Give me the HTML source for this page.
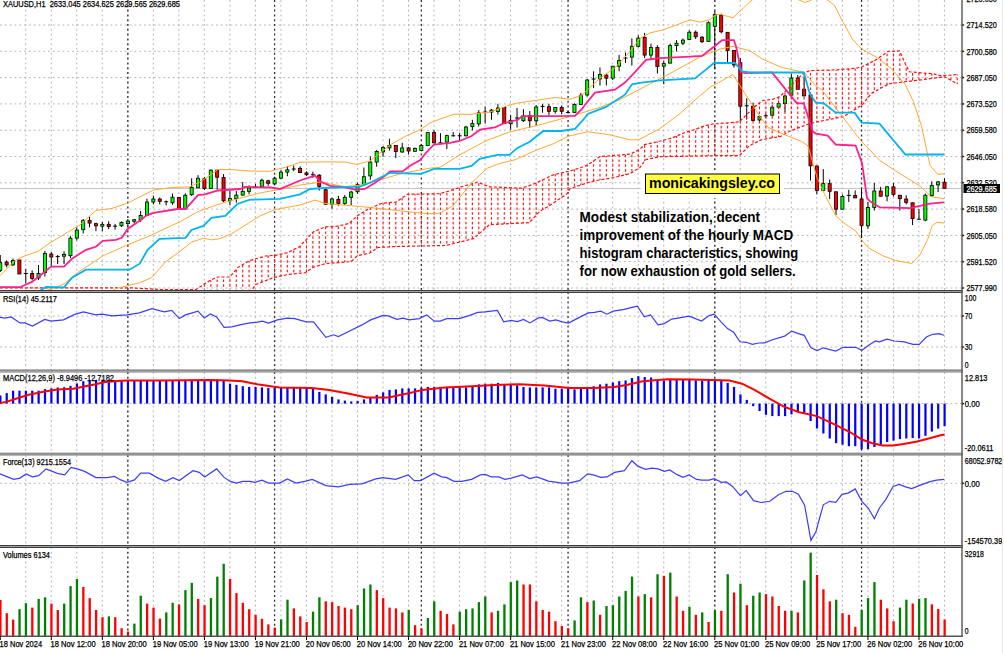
<!DOCTYPE html><html><head><meta charset="utf-8"><style>html,body{margin:0;padding:0;background:#fff;width:1004px;height:653px;overflow:hidden;position:relative}</style></head><body><svg width="1004" height="653" viewBox="0 0 1004 653" style="position:absolute;left:0;top:0"><style>text{font-family:"Liberation Sans",sans-serif;stroke-width:0.25}.g{stroke:#b8b8b8;stroke-width:1;stroke-dasharray:2 2.8}.d{stroke:#303030;stroke-width:1.3;stroke-dasharray:2 2.8}.ch{stroke:#ff1818;stroke-width:1.15;stroke-dasharray:2.6 2.2}.cb{fill:none;stroke:#ff1010;stroke-width:1.2;stroke-dasharray:3 2}.bb{fill:none;stroke:#ffa830;stroke-width:1}.kj{fill:none;stroke:#00b4f0;stroke-width:1.8}.tk{fill:none;stroke:#ff1f8f;stroke-width:1.8}.ind{fill:none;stroke:#3c3cff;stroke-width:1.2}</style><rect x="0" y="0" width="1004" height="653" fill="#fff"/><line x1="25.72" y1="0" x2="25.72" y2="290" class="g"/><line x1="51.24" y1="0" x2="51.24" y2="290" class="g"/><line x1="76.76" y1="0" x2="76.76" y2="290" class="g"/><line x1="102.28" y1="0" x2="102.28" y2="290" class="g"/><line x1="127.80" y1="0" x2="127.80" y2="290" class="g"/><line x1="153.32" y1="0" x2="153.32" y2="290" class="g"/><line x1="178.84" y1="0" x2="178.84" y2="290" class="g"/><line x1="204.36" y1="0" x2="204.36" y2="290" class="g"/><line x1="229.88" y1="0" x2="229.88" y2="290" class="g"/><line x1="255.40" y1="0" x2="255.40" y2="290" class="g"/><line x1="280.92" y1="0" x2="280.92" y2="290" class="g"/><line x1="306.44" y1="0" x2="306.44" y2="290" class="g"/><line x1="331.96" y1="0" x2="331.96" y2="290" class="g"/><line x1="357.48" y1="0" x2="357.48" y2="290" class="g"/><line x1="383.00" y1="0" x2="383.00" y2="290" class="g"/><line x1="408.52" y1="0" x2="408.52" y2="290" class="g"/><line x1="434.04" y1="0" x2="434.04" y2="290" class="g"/><line x1="459.56" y1="0" x2="459.56" y2="290" class="g"/><line x1="485.08" y1="0" x2="485.08" y2="290" class="g"/><line x1="510.60" y1="0" x2="510.60" y2="290" class="g"/><line x1="536.12" y1="0" x2="536.12" y2="290" class="g"/><line x1="561.64" y1="0" x2="561.64" y2="290" class="g"/><line x1="587.16" y1="0" x2="587.16" y2="290" class="g"/><line x1="612.68" y1="0" x2="612.68" y2="290" class="g"/><line x1="638.20" y1="0" x2="638.20" y2="290" class="g"/><line x1="663.72" y1="0" x2="663.72" y2="290" class="g"/><line x1="689.24" y1="0" x2="689.24" y2="290" class="g"/><line x1="714.76" y1="0" x2="714.76" y2="290" class="g"/><line x1="740.28" y1="0" x2="740.28" y2="290" class="g"/><line x1="765.80" y1="0" x2="765.80" y2="290" class="g"/><line x1="791.32" y1="0" x2="791.32" y2="290" class="g"/><line x1="816.84" y1="0" x2="816.84" y2="290" class="g"/><line x1="842.36" y1="0" x2="842.36" y2="290" class="g"/><line x1="867.88" y1="0" x2="867.88" y2="290" class="g"/><line x1="893.40" y1="0" x2="893.40" y2="290" class="g"/><line x1="918.92" y1="0" x2="918.92" y2="290" class="g"/><line x1="944.44" y1="0" x2="944.44" y2="290" class="g"/><line x1="25.72" y1="292" x2="25.72" y2="370" class="g"/><line x1="51.24" y1="292" x2="51.24" y2="370" class="g"/><line x1="76.76" y1="292" x2="76.76" y2="370" class="g"/><line x1="102.28" y1="292" x2="102.28" y2="370" class="g"/><line x1="127.80" y1="292" x2="127.80" y2="370" class="g"/><line x1="153.32" y1="292" x2="153.32" y2="370" class="g"/><line x1="178.84" y1="292" x2="178.84" y2="370" class="g"/><line x1="204.36" y1="292" x2="204.36" y2="370" class="g"/><line x1="229.88" y1="292" x2="229.88" y2="370" class="g"/><line x1="255.40" y1="292" x2="255.40" y2="370" class="g"/><line x1="280.92" y1="292" x2="280.92" y2="370" class="g"/><line x1="306.44" y1="292" x2="306.44" y2="370" class="g"/><line x1="331.96" y1="292" x2="331.96" y2="370" class="g"/><line x1="357.48" y1="292" x2="357.48" y2="370" class="g"/><line x1="383.00" y1="292" x2="383.00" y2="370" class="g"/><line x1="408.52" y1="292" x2="408.52" y2="370" class="g"/><line x1="434.04" y1="292" x2="434.04" y2="370" class="g"/><line x1="459.56" y1="292" x2="459.56" y2="370" class="g"/><line x1="485.08" y1="292" x2="485.08" y2="370" class="g"/><line x1="510.60" y1="292" x2="510.60" y2="370" class="g"/><line x1="536.12" y1="292" x2="536.12" y2="370" class="g"/><line x1="561.64" y1="292" x2="561.64" y2="370" class="g"/><line x1="587.16" y1="292" x2="587.16" y2="370" class="g"/><line x1="612.68" y1="292" x2="612.68" y2="370" class="g"/><line x1="638.20" y1="292" x2="638.20" y2="370" class="g"/><line x1="663.72" y1="292" x2="663.72" y2="370" class="g"/><line x1="689.24" y1="292" x2="689.24" y2="370" class="g"/><line x1="714.76" y1="292" x2="714.76" y2="370" class="g"/><line x1="740.28" y1="292" x2="740.28" y2="370" class="g"/><line x1="765.80" y1="292" x2="765.80" y2="370" class="g"/><line x1="791.32" y1="292" x2="791.32" y2="370" class="g"/><line x1="816.84" y1="292" x2="816.84" y2="370" class="g"/><line x1="842.36" y1="292" x2="842.36" y2="370" class="g"/><line x1="867.88" y1="292" x2="867.88" y2="370" class="g"/><line x1="893.40" y1="292" x2="893.40" y2="370" class="g"/><line x1="918.92" y1="292" x2="918.92" y2="370" class="g"/><line x1="944.44" y1="292" x2="944.44" y2="370" class="g"/><line x1="25.72" y1="372" x2="25.72" y2="453" class="g"/><line x1="51.24" y1="372" x2="51.24" y2="453" class="g"/><line x1="76.76" y1="372" x2="76.76" y2="453" class="g"/><line x1="102.28" y1="372" x2="102.28" y2="453" class="g"/><line x1="127.80" y1="372" x2="127.80" y2="453" class="g"/><line x1="153.32" y1="372" x2="153.32" y2="453" class="g"/><line x1="178.84" y1="372" x2="178.84" y2="453" class="g"/><line x1="204.36" y1="372" x2="204.36" y2="453" class="g"/><line x1="229.88" y1="372" x2="229.88" y2="453" class="g"/><line x1="255.40" y1="372" x2="255.40" y2="453" class="g"/><line x1="280.92" y1="372" x2="280.92" y2="453" class="g"/><line x1="306.44" y1="372" x2="306.44" y2="453" class="g"/><line x1="331.96" y1="372" x2="331.96" y2="453" class="g"/><line x1="357.48" y1="372" x2="357.48" y2="453" class="g"/><line x1="383.00" y1="372" x2="383.00" y2="453" class="g"/><line x1="408.52" y1="372" x2="408.52" y2="453" class="g"/><line x1="434.04" y1="372" x2="434.04" y2="453" class="g"/><line x1="459.56" y1="372" x2="459.56" y2="453" class="g"/><line x1="485.08" y1="372" x2="485.08" y2="453" class="g"/><line x1="510.60" y1="372" x2="510.60" y2="453" class="g"/><line x1="536.12" y1="372" x2="536.12" y2="453" class="g"/><line x1="561.64" y1="372" x2="561.64" y2="453" class="g"/><line x1="587.16" y1="372" x2="587.16" y2="453" class="g"/><line x1="612.68" y1="372" x2="612.68" y2="453" class="g"/><line x1="638.20" y1="372" x2="638.20" y2="453" class="g"/><line x1="663.72" y1="372" x2="663.72" y2="453" class="g"/><line x1="689.24" y1="372" x2="689.24" y2="453" class="g"/><line x1="714.76" y1="372" x2="714.76" y2="453" class="g"/><line x1="740.28" y1="372" x2="740.28" y2="453" class="g"/><line x1="765.80" y1="372" x2="765.80" y2="453" class="g"/><line x1="791.32" y1="372" x2="791.32" y2="453" class="g"/><line x1="816.84" y1="372" x2="816.84" y2="453" class="g"/><line x1="842.36" y1="372" x2="842.36" y2="453" class="g"/><line x1="867.88" y1="372" x2="867.88" y2="453" class="g"/><line x1="893.40" y1="372" x2="893.40" y2="453" class="g"/><line x1="918.92" y1="372" x2="918.92" y2="453" class="g"/><line x1="944.44" y1="372" x2="944.44" y2="453" class="g"/><line x1="25.72" y1="455" x2="25.72" y2="545" class="g"/><line x1="51.24" y1="455" x2="51.24" y2="545" class="g"/><line x1="76.76" y1="455" x2="76.76" y2="545" class="g"/><line x1="102.28" y1="455" x2="102.28" y2="545" class="g"/><line x1="127.80" y1="455" x2="127.80" y2="545" class="g"/><line x1="153.32" y1="455" x2="153.32" y2="545" class="g"/><line x1="178.84" y1="455" x2="178.84" y2="545" class="g"/><line x1="204.36" y1="455" x2="204.36" y2="545" class="g"/><line x1="229.88" y1="455" x2="229.88" y2="545" class="g"/><line x1="255.40" y1="455" x2="255.40" y2="545" class="g"/><line x1="280.92" y1="455" x2="280.92" y2="545" class="g"/><line x1="306.44" y1="455" x2="306.44" y2="545" class="g"/><line x1="331.96" y1="455" x2="331.96" y2="545" class="g"/><line x1="357.48" y1="455" x2="357.48" y2="545" class="g"/><line x1="383.00" y1="455" x2="383.00" y2="545" class="g"/><line x1="408.52" y1="455" x2="408.52" y2="545" class="g"/><line x1="434.04" y1="455" x2="434.04" y2="545" class="g"/><line x1="459.56" y1="455" x2="459.56" y2="545" class="g"/><line x1="485.08" y1="455" x2="485.08" y2="545" class="g"/><line x1="510.60" y1="455" x2="510.60" y2="545" class="g"/><line x1="536.12" y1="455" x2="536.12" y2="545" class="g"/><line x1="561.64" y1="455" x2="561.64" y2="545" class="g"/><line x1="587.16" y1="455" x2="587.16" y2="545" class="g"/><line x1="612.68" y1="455" x2="612.68" y2="545" class="g"/><line x1="638.20" y1="455" x2="638.20" y2="545" class="g"/><line x1="663.72" y1="455" x2="663.72" y2="545" class="g"/><line x1="689.24" y1="455" x2="689.24" y2="545" class="g"/><line x1="714.76" y1="455" x2="714.76" y2="545" class="g"/><line x1="740.28" y1="455" x2="740.28" y2="545" class="g"/><line x1="765.80" y1="455" x2="765.80" y2="545" class="g"/><line x1="791.32" y1="455" x2="791.32" y2="545" class="g"/><line x1="816.84" y1="455" x2="816.84" y2="545" class="g"/><line x1="842.36" y1="455" x2="842.36" y2="545" class="g"/><line x1="867.88" y1="455" x2="867.88" y2="545" class="g"/><line x1="893.40" y1="455" x2="893.40" y2="545" class="g"/><line x1="918.92" y1="455" x2="918.92" y2="545" class="g"/><line x1="944.44" y1="455" x2="944.44" y2="545" class="g"/><line x1="25.72" y1="547" x2="25.72" y2="636" class="g"/><line x1="51.24" y1="547" x2="51.24" y2="636" class="g"/><line x1="76.76" y1="547" x2="76.76" y2="636" class="g"/><line x1="102.28" y1="547" x2="102.28" y2="636" class="g"/><line x1="127.80" y1="547" x2="127.80" y2="636" class="g"/><line x1="153.32" y1="547" x2="153.32" y2="636" class="g"/><line x1="178.84" y1="547" x2="178.84" y2="636" class="g"/><line x1="204.36" y1="547" x2="204.36" y2="636" class="g"/><line x1="229.88" y1="547" x2="229.88" y2="636" class="g"/><line x1="255.40" y1="547" x2="255.40" y2="636" class="g"/><line x1="280.92" y1="547" x2="280.92" y2="636" class="g"/><line x1="306.44" y1="547" x2="306.44" y2="636" class="g"/><line x1="331.96" y1="547" x2="331.96" y2="636" class="g"/><line x1="357.48" y1="547" x2="357.48" y2="636" class="g"/><line x1="383.00" y1="547" x2="383.00" y2="636" class="g"/><line x1="408.52" y1="547" x2="408.52" y2="636" class="g"/><line x1="434.04" y1="547" x2="434.04" y2="636" class="g"/><line x1="459.56" y1="547" x2="459.56" y2="636" class="g"/><line x1="485.08" y1="547" x2="485.08" y2="636" class="g"/><line x1="510.60" y1="547" x2="510.60" y2="636" class="g"/><line x1="536.12" y1="547" x2="536.12" y2="636" class="g"/><line x1="561.64" y1="547" x2="561.64" y2="636" class="g"/><line x1="587.16" y1="547" x2="587.16" y2="636" class="g"/><line x1="612.68" y1="547" x2="612.68" y2="636" class="g"/><line x1="638.20" y1="547" x2="638.20" y2="636" class="g"/><line x1="663.72" y1="547" x2="663.72" y2="636" class="g"/><line x1="689.24" y1="547" x2="689.24" y2="636" class="g"/><line x1="714.76" y1="547" x2="714.76" y2="636" class="g"/><line x1="740.28" y1="547" x2="740.28" y2="636" class="g"/><line x1="765.80" y1="547" x2="765.80" y2="636" class="g"/><line x1="791.32" y1="547" x2="791.32" y2="636" class="g"/><line x1="816.84" y1="547" x2="816.84" y2="636" class="g"/><line x1="842.36" y1="547" x2="842.36" y2="636" class="g"/><line x1="867.88" y1="547" x2="867.88" y2="636" class="g"/><line x1="893.40" y1="547" x2="893.40" y2="636" class="g"/><line x1="918.92" y1="547" x2="918.92" y2="636" class="g"/><line x1="944.44" y1="547" x2="944.44" y2="636" class="g"/><line x1="0" y1="25.0" x2="962" y2="25.0" class="g"/><line x1="0" y1="51.3" x2="962" y2="51.3" class="g"/><line x1="0" y1="77.6" x2="962" y2="77.6" class="g"/><line x1="0" y1="103.9" x2="962" y2="103.9" class="g"/><line x1="0" y1="130.2" x2="962" y2="130.2" class="g"/><line x1="0" y1="156.5" x2="962" y2="156.5" class="g"/><line x1="0" y1="182.8" x2="962" y2="182.8" class="g"/><line x1="0" y1="209.1" x2="962" y2="209.1" class="g"/><line x1="0" y1="235.4" x2="962" y2="235.4" class="g"/><line x1="0" y1="261.7" x2="962" y2="261.7" class="g"/><line x1="0" y1="288.0" x2="962" y2="288.0" class="g"/><line x1="0" y1="316" x2="962" y2="316" class="g"/><line x1="0" y1="347" x2="962" y2="347" class="g"/><line x1="0" y1="403.6" x2="962" y2="403.6" class="g"/><line x1="0" y1="483.3" x2="962" y2="483.3" class="g"/><line x1="127.85" y1="0" x2="127.85" y2="290" class="d"/><line x1="274.59" y1="0" x2="274.59" y2="290" class="d"/><line x1="421.33" y1="0" x2="421.33" y2="290" class="d"/><line x1="568.07" y1="0" x2="568.07" y2="290" class="d"/><line x1="714.81" y1="0" x2="714.81" y2="290" class="d"/><line x1="861.55" y1="0" x2="861.55" y2="290" class="d"/><line x1="127.85" y1="292" x2="127.85" y2="370" class="d"/><line x1="274.59" y1="292" x2="274.59" y2="370" class="d"/><line x1="421.33" y1="292" x2="421.33" y2="370" class="d"/><line x1="568.07" y1="292" x2="568.07" y2="370" class="d"/><line x1="714.81" y1="292" x2="714.81" y2="370" class="d"/><line x1="861.55" y1="292" x2="861.55" y2="370" class="d"/><line x1="127.85" y1="372" x2="127.85" y2="453" class="d"/><line x1="274.59" y1="372" x2="274.59" y2="453" class="d"/><line x1="421.33" y1="372" x2="421.33" y2="453" class="d"/><line x1="568.07" y1="372" x2="568.07" y2="453" class="d"/><line x1="714.81" y1="372" x2="714.81" y2="453" class="d"/><line x1="861.55" y1="372" x2="861.55" y2="453" class="d"/><line x1="127.85" y1="455" x2="127.85" y2="545" class="d"/><line x1="274.59" y1="455" x2="274.59" y2="545" class="d"/><line x1="421.33" y1="455" x2="421.33" y2="545" class="d"/><line x1="568.07" y1="455" x2="568.07" y2="545" class="d"/><line x1="714.81" y1="455" x2="714.81" y2="545" class="d"/><line x1="861.55" y1="455" x2="861.55" y2="545" class="d"/><line x1="127.85" y1="547" x2="127.85" y2="636" class="d"/><line x1="274.59" y1="547" x2="274.59" y2="636" class="d"/><line x1="421.33" y1="547" x2="421.33" y2="636" class="d"/><line x1="568.07" y1="547" x2="568.07" y2="636" class="d"/><line x1="714.81" y1="547" x2="714.81" y2="636" class="d"/><line x1="861.55" y1="547" x2="861.55" y2="636" class="d"/><svg x="0" y="0" width="962" height="290" overflow="hidden"><line x1="0" y1="188.5" x2="962" y2="188.5" stroke="#c4c4c4" stroke-width="1"/><line x1="0.25" y1="255.0" x2="0.25" y2="272.0" stroke="#000" stroke-width="1"/><rect x="-1.30" y="262.7" width="3.1" height="7.7" fill="#00ff00" stroke="#000" stroke-width="0.8"/><line x1="6.63" y1="260.4" x2="6.63" y2="267.3" stroke="#000" stroke-width="1"/><rect x="5.08" y="262.0" width="3.1" height="3.0" fill="#ff0000" stroke="#000" stroke-width="0.8"/><line x1="13.01" y1="258.5" x2="13.01" y2="265.8" stroke="#000" stroke-width="1"/><rect x="11.46" y="260.4" width="3.1" height="4.6" fill="#00ff00" stroke="#000" stroke-width="0.8"/><line x1="19.39" y1="260.0" x2="19.39" y2="274.0" stroke="#000" stroke-width="1"/><rect x="17.84" y="260.0" width="3.1" height="14.0" fill="#ff0000" stroke="#000" stroke-width="0.8"/><line x1="25.77" y1="268.9" x2="25.77" y2="283.4" stroke="#000" stroke-width="1"/><line x1="23.77" y1="273.5" x2="27.77" y2="273.5" stroke="#000" stroke-width="1"/><line x1="32.15" y1="270.4" x2="32.15" y2="280.4" stroke="#000" stroke-width="1"/><rect x="30.60" y="273.5" width="3.1" height="5.0" fill="#ff0000" stroke="#000" stroke-width="0.8"/><line x1="38.53" y1="265.0" x2="38.53" y2="280.0" stroke="#000" stroke-width="1"/><rect x="36.98" y="273.5" width="3.1" height="4.5" fill="#00ff00" stroke="#000" stroke-width="0.8"/><line x1="44.91" y1="251.0" x2="44.91" y2="276.5" stroke="#000" stroke-width="1"/><rect x="43.36" y="253.5" width="3.1" height="19.2" fill="#00ff00" stroke="#000" stroke-width="0.8"/><line x1="51.29" y1="252.0" x2="51.29" y2="265.8" stroke="#000" stroke-width="1"/><rect x="49.74" y="254.0" width="3.1" height="3.0" fill="#ff0000" stroke="#000" stroke-width="0.8"/><line x1="57.67" y1="255.0" x2="57.67" y2="264.0" stroke="#000" stroke-width="1"/><line x1="55.67" y1="256.6" x2="59.67" y2="256.6" stroke="#000" stroke-width="1"/><line x1="64.05" y1="251.3" x2="64.05" y2="264.0" stroke="#000" stroke-width="1"/><rect x="62.50" y="254.3" width="3.1" height="1.9" fill="#00ff00" stroke="#000" stroke-width="0.8"/><line x1="70.43" y1="235.8" x2="70.43" y2="258.0" stroke="#000" stroke-width="1"/><rect x="68.88" y="238.1" width="3.1" height="17.6" fill="#00ff00" stroke="#000" stroke-width="0.8"/><line x1="76.81" y1="227.4" x2="76.81" y2="240.4" stroke="#000" stroke-width="1"/><rect x="75.26" y="230.1" width="3.1" height="8.0" fill="#00ff00" stroke="#000" stroke-width="0.8"/><line x1="83.19" y1="219.0" x2="83.19" y2="233.5" stroke="#000" stroke-width="1"/><rect x="81.64" y="220.5" width="3.1" height="9.2" fill="#00ff00" stroke="#000" stroke-width="0.8"/><line x1="89.57" y1="216.4" x2="89.57" y2="227.4" stroke="#000" stroke-width="1"/><rect x="88.02" y="220.5" width="3.1" height="2.6" fill="#ff0000" stroke="#000" stroke-width="0.8"/><line x1="95.95" y1="222.8" x2="95.95" y2="231.2" stroke="#000" stroke-width="1"/><rect x="94.40" y="223.6" width="3.1" height="2.2" fill="#ff0000" stroke="#000" stroke-width="0.8"/><line x1="102.33" y1="222.0" x2="102.33" y2="231.2" stroke="#000" stroke-width="1"/><rect x="100.78" y="224.3" width="3.1" height="1.9" fill="#00ff00" stroke="#000" stroke-width="0.8"/><line x1="108.71" y1="221.3" x2="108.71" y2="229.2" stroke="#000" stroke-width="1"/><rect x="107.16" y="224.3" width="3.1" height="2.3" fill="#ff0000" stroke="#000" stroke-width="0.8"/><line x1="115.09" y1="224.0" x2="115.09" y2="229.7" stroke="#000" stroke-width="1"/><line x1="113.09" y1="226.2" x2="117.09" y2="226.2" stroke="#000" stroke-width="1"/><line x1="121.47" y1="221.3" x2="121.47" y2="227.0" stroke="#000" stroke-width="1"/><rect x="119.92" y="222.5" width="3.1" height="3.3" fill="#00ff00" stroke="#000" stroke-width="0.8"/><line x1="127.85" y1="219.0" x2="127.85" y2="226.6" stroke="#000" stroke-width="1"/><rect x="126.30" y="221.0" width="3.1" height="2.6" fill="#00ff00" stroke="#000" stroke-width="0.8"/><line x1="134.23" y1="219.5" x2="134.23" y2="223.5" stroke="#000" stroke-width="1"/><rect x="132.68" y="219.7" width="3.1" height="1.5" fill="#00ff00" stroke="#000" stroke-width="0.8"/><line x1="140.61" y1="211.0" x2="140.61" y2="222.0" stroke="#000" stroke-width="1"/><rect x="139.06" y="215.5" width="3.1" height="4.2" fill="#00ff00" stroke="#000" stroke-width="0.8"/><line x1="146.99" y1="198.7" x2="146.99" y2="215.8" stroke="#000" stroke-width="1"/><rect x="145.44" y="202.0" width="3.1" height="13.5" fill="#00ff00" stroke="#000" stroke-width="0.8"/><line x1="153.37" y1="195.6" x2="153.37" y2="204.4" stroke="#000" stroke-width="1"/><rect x="151.82" y="199.0" width="3.1" height="3.0" fill="#00ff00" stroke="#000" stroke-width="0.8"/><line x1="159.75" y1="197.5" x2="159.75" y2="204.4" stroke="#000" stroke-width="1"/><rect x="158.20" y="199.0" width="3.1" height="2.3" fill="#ff0000" stroke="#000" stroke-width="0.8"/><line x1="166.13" y1="200.5" x2="166.13" y2="205.4" stroke="#000" stroke-width="1"/><line x1="164.13" y1="201.8" x2="168.13" y2="201.8" stroke="#000" stroke-width="1"/><line x1="172.51" y1="193.6" x2="172.51" y2="204.8" stroke="#000" stroke-width="1"/><rect x="170.96" y="197.2" width="3.1" height="5.6" fill="#00ff00" stroke="#000" stroke-width="0.8"/><line x1="178.89" y1="197.5" x2="178.89" y2="209.4" stroke="#000" stroke-width="1"/><rect x="177.34" y="197.5" width="3.1" height="11.9" fill="#ff0000" stroke="#000" stroke-width="0.8"/><line x1="185.27" y1="193.3" x2="185.27" y2="209.0" stroke="#000" stroke-width="1"/><rect x="183.72" y="195.2" width="3.1" height="13.8" fill="#00ff00" stroke="#000" stroke-width="0.8"/><line x1="191.65" y1="178.3" x2="191.65" y2="196.0" stroke="#000" stroke-width="1"/><rect x="190.10" y="187.5" width="3.1" height="7.2" fill="#00ff00" stroke="#000" stroke-width="0.8"/><line x1="198.03" y1="175.2" x2="198.03" y2="187.9" stroke="#000" stroke-width="1"/><rect x="196.48" y="178.2" width="3.1" height="9.7" fill="#00ff00" stroke="#000" stroke-width="0.8"/><line x1="204.41" y1="177.2" x2="204.41" y2="190.0" stroke="#000" stroke-width="1"/><rect x="202.86" y="178.7" width="3.1" height="9.8" fill="#ff0000" stroke="#000" stroke-width="0.8"/><line x1="210.79" y1="169.5" x2="210.79" y2="188.5" stroke="#000" stroke-width="1"/><rect x="209.24" y="170.1" width="3.1" height="18.4" fill="#00ff00" stroke="#000" stroke-width="0.8"/><line x1="217.17" y1="170.1" x2="217.17" y2="189.7" stroke="#000" stroke-width="1"/><rect x="215.62" y="170.1" width="3.1" height="7.1" fill="#ff0000" stroke="#000" stroke-width="0.8"/><line x1="223.55" y1="174.1" x2="223.55" y2="202.3" stroke="#000" stroke-width="1"/><rect x="222.00" y="177.5" width="3.1" height="23.3" fill="#ff0000" stroke="#000" stroke-width="0.8"/><line x1="229.93" y1="190.5" x2="229.93" y2="205.3" stroke="#000" stroke-width="1"/><rect x="228.38" y="198.6" width="3.1" height="2.2" fill="#00ff00" stroke="#000" stroke-width="0.8"/><line x1="236.31" y1="191.0" x2="236.31" y2="202.7" stroke="#000" stroke-width="1"/><rect x="234.76" y="195.1" width="3.1" height="3.5" fill="#00ff00" stroke="#000" stroke-width="0.8"/><line x1="242.69" y1="182.1" x2="242.69" y2="195.8" stroke="#000" stroke-width="1"/><rect x="241.14" y="191.3" width="3.1" height="3.8" fill="#00ff00" stroke="#000" stroke-width="0.8"/><line x1="249.07" y1="185.4" x2="249.07" y2="194.3" stroke="#000" stroke-width="1"/><rect x="247.52" y="187.9" width="3.1" height="3.4" fill="#00ff00" stroke="#000" stroke-width="0.8"/><line x1="255.45" y1="183.9" x2="255.45" y2="188.2" stroke="#000" stroke-width="1"/><line x1="253.45" y1="187.0" x2="257.45" y2="187.0" stroke="#000" stroke-width="1"/><line x1="261.83" y1="178.7" x2="261.83" y2="186.7" stroke="#000" stroke-width="1"/><rect x="260.28" y="180.2" width="3.1" height="6.2" fill="#00ff00" stroke="#000" stroke-width="0.8"/><line x1="268.21" y1="179.8" x2="268.21" y2="185.9" stroke="#000" stroke-width="1"/><rect x="266.66" y="180.8" width="3.1" height="2.5" fill="#ff0000" stroke="#000" stroke-width="0.8"/><line x1="274.59" y1="176.7" x2="274.59" y2="185.4" stroke="#000" stroke-width="1"/><rect x="273.04" y="178.2" width="3.1" height="5.7" fill="#00ff00" stroke="#000" stroke-width="0.8"/><line x1="280.97" y1="170.1" x2="280.97" y2="179.0" stroke="#000" stroke-width="1"/><rect x="279.42" y="172.1" width="3.1" height="6.1" fill="#00ff00" stroke="#000" stroke-width="0.8"/><line x1="287.35" y1="166.0" x2="287.35" y2="176.2" stroke="#000" stroke-width="1"/><rect x="285.80" y="169.8" width="3.1" height="2.3" fill="#00ff00" stroke="#000" stroke-width="0.8"/><line x1="293.73" y1="165.5" x2="293.73" y2="171.3" stroke="#000" stroke-width="1"/><line x1="291.73" y1="169.0" x2="295.73" y2="169.0" stroke="#000" stroke-width="1"/><line x1="300.11" y1="166.4" x2="300.11" y2="173.2" stroke="#000" stroke-width="1"/><rect x="298.56" y="168.3" width="3.1" height="4.3" fill="#ff0000" stroke="#000" stroke-width="0.8"/><line x1="306.49" y1="171.3" x2="306.49" y2="176.0" stroke="#000" stroke-width="1"/><rect x="304.94" y="172.9" width="3.1" height="1.8" fill="#ff0000" stroke="#000" stroke-width="0.8"/><line x1="312.87" y1="171.7" x2="312.87" y2="177.8" stroke="#000" stroke-width="1"/><line x1="310.87" y1="174.7" x2="314.87" y2="174.7" stroke="#000" stroke-width="1"/><line x1="319.25" y1="174.1" x2="319.25" y2="190.5" stroke="#000" stroke-width="1"/><rect x="317.70" y="175.2" width="3.1" height="11.2" fill="#ff0000" stroke="#000" stroke-width="0.8"/><line x1="325.63" y1="188.5" x2="325.63" y2="204.5" stroke="#000" stroke-width="1"/><rect x="324.08" y="189.7" width="3.1" height="14.5" fill="#ff0000" stroke="#000" stroke-width="0.8"/><line x1="332.01" y1="197.8" x2="332.01" y2="208.8" stroke="#000" stroke-width="1"/><rect x="330.46" y="198.9" width="3.1" height="5.3" fill="#00ff00" stroke="#000" stroke-width="0.8"/><line x1="338.39" y1="195.8" x2="338.39" y2="205.8" stroke="#000" stroke-width="1"/><rect x="336.84" y="199.3" width="3.1" height="4.2" fill="#ff0000" stroke="#000" stroke-width="0.8"/><line x1="344.77" y1="195.0" x2="344.77" y2="205.0" stroke="#000" stroke-width="1"/><rect x="343.22" y="197.3" width="3.1" height="6.2" fill="#00ff00" stroke="#000" stroke-width="0.8"/><line x1="351.15" y1="190.8" x2="351.15" y2="205.0" stroke="#000" stroke-width="1"/><rect x="349.60" y="192.0" width="3.1" height="5.3" fill="#00ff00" stroke="#000" stroke-width="0.8"/><line x1="357.53" y1="182.7" x2="357.53" y2="193.8" stroke="#000" stroke-width="1"/><rect x="355.98" y="184.6" width="3.1" height="7.2" fill="#00ff00" stroke="#000" stroke-width="0.8"/><line x1="363.91" y1="167.5" x2="363.91" y2="185.1" stroke="#000" stroke-width="1"/><rect x="362.36" y="176.7" width="3.1" height="7.6" fill="#00ff00" stroke="#000" stroke-width="0.8"/><line x1="370.29" y1="156.4" x2="370.29" y2="179.7" stroke="#000" stroke-width="1"/><rect x="368.74" y="162.1" width="3.1" height="13.8" fill="#00ff00" stroke="#000" stroke-width="0.8"/><line x1="376.67" y1="149.9" x2="376.67" y2="166.7" stroke="#000" stroke-width="1"/><rect x="375.12" y="151.4" width="3.1" height="10.7" fill="#00ff00" stroke="#000" stroke-width="0.8"/><line x1="383.05" y1="146.0" x2="383.05" y2="156.8" stroke="#000" stroke-width="1"/><rect x="381.50" y="147.6" width="3.1" height="4.3" fill="#00ff00" stroke="#000" stroke-width="0.8"/><line x1="389.43" y1="138.7" x2="389.43" y2="150.5" stroke="#000" stroke-width="1"/><rect x="387.88" y="145.4" width="3.1" height="2.5" fill="#00ff00" stroke="#000" stroke-width="0.8"/><line x1="395.81" y1="145.4" x2="395.81" y2="158.1" stroke="#000" stroke-width="1"/><rect x="394.26" y="145.4" width="3.1" height="6.2" fill="#ff0000" stroke="#000" stroke-width="0.8"/><line x1="402.19" y1="142.8" x2="402.19" y2="152.8" stroke="#000" stroke-width="1"/><rect x="400.64" y="147.9" width="3.1" height="4.1" fill="#00ff00" stroke="#000" stroke-width="0.8"/><line x1="408.57" y1="147.0" x2="408.57" y2="154.3" stroke="#000" stroke-width="1"/><rect x="407.02" y="147.9" width="3.1" height="3.1" fill="#ff0000" stroke="#000" stroke-width="0.8"/><line x1="414.95" y1="147.4" x2="414.95" y2="151.5" stroke="#000" stroke-width="1"/><rect x="413.40" y="148.5" width="3.1" height="2.8" fill="#00ff00" stroke="#000" stroke-width="0.8"/><line x1="421.33" y1="144.4" x2="421.33" y2="151.3" stroke="#000" stroke-width="1"/><rect x="419.78" y="145.4" width="3.1" height="5.1" fill="#00ff00" stroke="#000" stroke-width="0.8"/><line x1="427.71" y1="132.6" x2="427.71" y2="145.8" stroke="#000" stroke-width="1"/><rect x="426.16" y="132.6" width="3.1" height="12.8" fill="#00ff00" stroke="#000" stroke-width="0.8"/><line x1="434.09" y1="130.1" x2="434.09" y2="143.6" stroke="#000" stroke-width="1"/><rect x="432.54" y="132.6" width="3.1" height="10.2" fill="#ff0000" stroke="#000" stroke-width="0.8"/><line x1="440.47" y1="133.2" x2="440.47" y2="143.6" stroke="#000" stroke-width="1"/><line x1="438.47" y1="142.8" x2="442.47" y2="142.8" stroke="#000" stroke-width="1"/><line x1="446.85" y1="134.7" x2="446.85" y2="149.0" stroke="#000" stroke-width="1"/><rect x="445.30" y="135.6" width="3.1" height="6.5" fill="#00ff00" stroke="#000" stroke-width="0.8"/><line x1="453.23" y1="132.0" x2="453.23" y2="136.5" stroke="#000" stroke-width="1"/><line x1="451.23" y1="135.8" x2="455.23" y2="135.8" stroke="#000" stroke-width="1"/><line x1="459.61" y1="132.8" x2="459.61" y2="140.1" stroke="#000" stroke-width="1"/><line x1="457.61" y1="135.8" x2="461.61" y2="135.8" stroke="#000" stroke-width="1"/><line x1="465.99" y1="125.9" x2="465.99" y2="136.5" stroke="#000" stroke-width="1"/><rect x="464.44" y="127.0" width="3.1" height="8.8" fill="#00ff00" stroke="#000" stroke-width="0.8"/><line x1="472.37" y1="119.8" x2="472.37" y2="130.5" stroke="#000" stroke-width="1"/><rect x="470.82" y="123.6" width="3.1" height="3.1" fill="#00ff00" stroke="#000" stroke-width="0.8"/><line x1="478.75" y1="110.1" x2="478.75" y2="126.4" stroke="#000" stroke-width="1"/><rect x="477.20" y="112.9" width="3.1" height="11.0" fill="#00ff00" stroke="#000" stroke-width="0.8"/><line x1="485.13" y1="106.8" x2="485.13" y2="123.6" stroke="#000" stroke-width="1"/><line x1="483.13" y1="112.1" x2="487.13" y2="112.1" stroke="#000" stroke-width="1"/><line x1="491.51" y1="109.0" x2="491.51" y2="119.8" stroke="#000" stroke-width="1"/><rect x="489.96" y="110.1" width="3.1" height="2.0" fill="#00ff00" stroke="#000" stroke-width="0.8"/><line x1="497.89" y1="103.8" x2="497.89" y2="114.5" stroke="#000" stroke-width="1"/><rect x="496.34" y="108.0" width="3.1" height="3.5" fill="#00ff00" stroke="#000" stroke-width="0.8"/><line x1="504.27" y1="107.5" x2="504.27" y2="123.7" stroke="#000" stroke-width="1"/><rect x="502.72" y="107.5" width="3.1" height="16.2" fill="#ff0000" stroke="#000" stroke-width="0.8"/><line x1="510.65" y1="114.9" x2="510.65" y2="129.8" stroke="#000" stroke-width="1"/><rect x="509.10" y="120.3" width="3.1" height="3.4" fill="#00ff00" stroke="#000" stroke-width="0.8"/><line x1="517.03" y1="108.0" x2="517.03" y2="127.5" stroke="#000" stroke-width="1"/><line x1="515.03" y1="118.0" x2="519.03" y2="118.0" stroke="#000" stroke-width="1"/><line x1="523.41" y1="109.2" x2="523.41" y2="122.0" stroke="#000" stroke-width="1"/><rect x="521.86" y="116.0" width="3.1" height="4.7" fill="#00ff00" stroke="#000" stroke-width="0.8"/><line x1="529.79" y1="111.0" x2="529.79" y2="128.0" stroke="#000" stroke-width="1"/><rect x="528.24" y="115.5" width="3.1" height="5.3" fill="#ff0000" stroke="#000" stroke-width="0.8"/><line x1="536.17" y1="105.1" x2="536.17" y2="125.8" stroke="#000" stroke-width="1"/><rect x="534.62" y="107.0" width="3.1" height="13.8" fill="#00ff00" stroke="#000" stroke-width="0.8"/><line x1="542.55" y1="103.9" x2="542.55" y2="112.8" stroke="#000" stroke-width="1"/><line x1="540.55" y1="106.4" x2="544.55" y2="106.4" stroke="#000" stroke-width="1"/><line x1="548.93" y1="103.9" x2="548.93" y2="115.1" stroke="#000" stroke-width="1"/><rect x="547.38" y="106.7" width="3.1" height="4.6" fill="#ff0000" stroke="#000" stroke-width="0.8"/><line x1="555.31" y1="107.0" x2="555.31" y2="113.6" stroke="#000" stroke-width="1"/><rect x="553.76" y="107.4" width="3.1" height="3.9" fill="#00ff00" stroke="#000" stroke-width="0.8"/><line x1="561.69" y1="105.5" x2="561.69" y2="114.3" stroke="#000" stroke-width="1"/><rect x="560.14" y="107.4" width="3.1" height="3.9" fill="#ff0000" stroke="#000" stroke-width="0.8"/><line x1="568.07" y1="110.5" x2="568.07" y2="113.6" stroke="#000" stroke-width="1"/><line x1="566.07" y1="112.5" x2="570.07" y2="112.5" stroke="#000" stroke-width="1"/><line x1="574.45" y1="103.3" x2="574.45" y2="113.0" stroke="#000" stroke-width="1"/><rect x="572.90" y="104.4" width="3.1" height="8.1" fill="#00ff00" stroke="#000" stroke-width="0.8"/><line x1="580.83" y1="92.9" x2="580.83" y2="104.8" stroke="#000" stroke-width="1"/><rect x="579.28" y="95.2" width="3.1" height="9.2" fill="#00ff00" stroke="#000" stroke-width="0.8"/><line x1="587.21" y1="79.0" x2="587.21" y2="96.6" stroke="#000" stroke-width="1"/><rect x="585.66" y="80.0" width="3.1" height="15.0" fill="#00ff00" stroke="#000" stroke-width="0.8"/><line x1="593.59" y1="71.3" x2="593.59" y2="88.1" stroke="#000" stroke-width="1"/><line x1="591.59" y1="79.0" x2="595.59" y2="79.0" stroke="#000" stroke-width="1"/><line x1="599.97" y1="67.5" x2="599.97" y2="85.5" stroke="#000" stroke-width="1"/><rect x="598.42" y="74.4" width="3.1" height="4.6" fill="#00ff00" stroke="#000" stroke-width="0.8"/><line x1="606.35" y1="73.6" x2="606.35" y2="85.5" stroke="#000" stroke-width="1"/><rect x="604.80" y="75.1" width="3.1" height="3.1" fill="#ff0000" stroke="#000" stroke-width="0.8"/><line x1="612.73" y1="66.0" x2="612.73" y2="80.0" stroke="#000" stroke-width="1"/><rect x="611.18" y="66.2" width="3.1" height="12.0" fill="#00ff00" stroke="#000" stroke-width="0.8"/><line x1="619.11" y1="54.9" x2="619.11" y2="71.3" stroke="#000" stroke-width="1"/><rect x="617.56" y="60.6" width="3.1" height="5.6" fill="#00ff00" stroke="#000" stroke-width="0.8"/><line x1="625.49" y1="52.5" x2="625.49" y2="62.9" stroke="#000" stroke-width="1"/><line x1="623.49" y1="58.0" x2="627.49" y2="58.0" stroke="#000" stroke-width="1"/><line x1="631.87" y1="38.4" x2="631.87" y2="65.6" stroke="#000" stroke-width="1"/><rect x="630.32" y="46.3" width="3.1" height="10.8" fill="#00ff00" stroke="#000" stroke-width="0.8"/><line x1="638.25" y1="35.3" x2="638.25" y2="47.6" stroke="#000" stroke-width="1"/><rect x="636.70" y="38.1" width="3.1" height="8.2" fill="#00ff00" stroke="#000" stroke-width="0.8"/><line x1="644.63" y1="32.9" x2="644.63" y2="58.2" stroke="#000" stroke-width="1"/><rect x="643.08" y="37.5" width="3.1" height="17.6" fill="#ff0000" stroke="#000" stroke-width="0.8"/><line x1="651.01" y1="43.6" x2="651.01" y2="59.0" stroke="#000" stroke-width="1"/><rect x="649.46" y="47.5" width="3.1" height="7.6" fill="#00ff00" stroke="#000" stroke-width="0.8"/><line x1="657.39" y1="45.2" x2="657.39" y2="73.5" stroke="#000" stroke-width="1"/><rect x="655.84" y="47.5" width="3.1" height="19.1" fill="#ff0000" stroke="#000" stroke-width="0.8"/><line x1="663.77" y1="60.5" x2="663.77" y2="84.2" stroke="#000" stroke-width="1"/><rect x="662.22" y="63.6" width="3.1" height="2.6" fill="#00ff00" stroke="#000" stroke-width="0.8"/><line x1="670.15" y1="43.6" x2="670.15" y2="63.5" stroke="#000" stroke-width="1"/><rect x="668.60" y="45.6" width="3.1" height="17.5" fill="#00ff00" stroke="#000" stroke-width="0.8"/><line x1="676.53" y1="40.1" x2="676.53" y2="51.3" stroke="#000" stroke-width="1"/><rect x="674.98" y="43.2" width="3.1" height="2.4" fill="#00ff00" stroke="#000" stroke-width="0.8"/><line x1="682.91" y1="38.6" x2="682.91" y2="45.2" stroke="#000" stroke-width="1"/><rect x="681.36" y="40.1" width="3.1" height="3.1" fill="#00ff00" stroke="#000" stroke-width="0.8"/><line x1="689.29" y1="30.3" x2="689.29" y2="40.1" stroke="#000" stroke-width="1"/><rect x="687.74" y="32.2" width="3.1" height="7.3" fill="#00ff00" stroke="#000" stroke-width="0.8"/><line x1="695.67" y1="30.6" x2="695.67" y2="39.0" stroke="#000" stroke-width="1"/><rect x="694.12" y="32.2" width="3.1" height="4.6" fill="#ff0000" stroke="#000" stroke-width="0.8"/><line x1="702.05" y1="36.0" x2="702.05" y2="43.2" stroke="#000" stroke-width="1"/><rect x="700.50" y="37.2" width="3.1" height="4.5" fill="#ff0000" stroke="#000" stroke-width="0.8"/><line x1="708.43" y1="21.4" x2="708.43" y2="41.5" stroke="#000" stroke-width="1"/><rect x="706.88" y="22.7" width="3.1" height="18.7" fill="#00ff00" stroke="#000" stroke-width="0.8"/><line x1="714.81" y1="11.4" x2="714.81" y2="69.0" stroke="#000" stroke-width="1"/><rect x="713.26" y="14.6" width="3.1" height="11.8" fill="#00ff00" stroke="#000" stroke-width="0.8"/><line x1="721.19" y1="13.6" x2="721.19" y2="33.4" stroke="#000" stroke-width="1"/><rect x="719.64" y="15.2" width="3.1" height="16.6" fill="#ff0000" stroke="#000" stroke-width="0.8"/><line x1="727.57" y1="32.0" x2="727.57" y2="62.0" stroke="#000" stroke-width="1"/><rect x="726.02" y="32.3" width="3.1" height="18.2" fill="#ff0000" stroke="#000" stroke-width="0.8"/><line x1="733.95" y1="50.4" x2="733.95" y2="67.7" stroke="#000" stroke-width="1"/><rect x="732.40" y="50.5" width="3.1" height="14.5" fill="#ff0000" stroke="#000" stroke-width="0.8"/><line x1="740.33" y1="58.1" x2="740.33" y2="121.2" stroke="#000" stroke-width="1"/><rect x="738.78" y="62.7" width="3.1" height="43.5" fill="#ff0000" stroke="#000" stroke-width="0.8"/><line x1="746.71" y1="98.2" x2="746.71" y2="119.6" stroke="#000" stroke-width="1"/><line x1="744.71" y1="105.8" x2="748.71" y2="105.8" stroke="#000" stroke-width="1"/><line x1="753.09" y1="102.5" x2="753.09" y2="121.2" stroke="#000" stroke-width="1"/><rect x="751.54" y="106.2" width="3.1" height="14.2" fill="#ff0000" stroke="#000" stroke-width="0.8"/><line x1="759.47" y1="115.0" x2="759.47" y2="121.2" stroke="#000" stroke-width="1"/><rect x="757.92" y="116.6" width="3.1" height="3.4" fill="#00ff00" stroke="#000" stroke-width="0.8"/><line x1="765.85" y1="113.5" x2="765.85" y2="118.1" stroke="#000" stroke-width="1"/><line x1="763.85" y1="115.8" x2="767.85" y2="115.8" stroke="#000" stroke-width="1"/><line x1="772.23" y1="105.1" x2="772.23" y2="116.5" stroke="#000" stroke-width="1"/><rect x="770.68" y="107.2" width="3.1" height="8.0" fill="#00ff00" stroke="#000" stroke-width="0.8"/><line x1="778.61" y1="100.6" x2="778.61" y2="108.2" stroke="#000" stroke-width="1"/><rect x="777.06" y="103.6" width="3.1" height="3.6" fill="#00ff00" stroke="#000" stroke-width="0.8"/><line x1="784.99" y1="94.9" x2="784.99" y2="112.1" stroke="#000" stroke-width="1"/><rect x="783.44" y="96.0" width="3.1" height="7.6" fill="#00ff00" stroke="#000" stroke-width="0.8"/><line x1="791.37" y1="73.8" x2="791.37" y2="96.8" stroke="#000" stroke-width="1"/><rect x="789.82" y="78.1" width="3.1" height="17.1" fill="#00ff00" stroke="#000" stroke-width="0.8"/><line x1="797.75" y1="75.0" x2="797.75" y2="90.0" stroke="#000" stroke-width="1"/><rect x="796.20" y="78.0" width="3.1" height="11.5" fill="#ff0000" stroke="#000" stroke-width="0.8"/><line x1="804.13" y1="75.9" x2="804.13" y2="96.5" stroke="#000" stroke-width="1"/><rect x="802.58" y="89.2" width="3.1" height="6.7" fill="#ff0000" stroke="#000" stroke-width="0.8"/><line x1="810.51" y1="94.5" x2="810.51" y2="180.5" stroke="#000" stroke-width="1"/><rect x="808.96" y="94.9" width="3.1" height="70.9" fill="#ff0000" stroke="#000" stroke-width="0.8"/><line x1="816.89" y1="165.5" x2="816.89" y2="194.4" stroke="#000" stroke-width="1"/><rect x="815.34" y="166.0" width="3.1" height="24.5" fill="#ff0000" stroke="#000" stroke-width="0.8"/><line x1="823.27" y1="169.1" x2="823.27" y2="191.0" stroke="#000" stroke-width="1"/><rect x="821.72" y="183.6" width="3.1" height="6.9" fill="#00ff00" stroke="#000" stroke-width="0.8"/><line x1="829.65" y1="179.5" x2="829.65" y2="199.0" stroke="#000" stroke-width="1"/><rect x="828.10" y="183.6" width="3.1" height="7.7" fill="#ff0000" stroke="#000" stroke-width="0.8"/><line x1="836.03" y1="191.5" x2="836.03" y2="215.0" stroke="#000" stroke-width="1"/><rect x="834.48" y="191.8" width="3.1" height="17.4" fill="#ff0000" stroke="#000" stroke-width="0.8"/><line x1="842.41" y1="194.4" x2="842.41" y2="209.5" stroke="#000" stroke-width="1"/><rect x="840.86" y="196.4" width="3.1" height="12.8" fill="#00ff00" stroke="#000" stroke-width="0.8"/><line x1="848.79" y1="189.8" x2="848.79" y2="202.0" stroke="#000" stroke-width="1"/><line x1="846.79" y1="195.4" x2="850.79" y2="195.4" stroke="#000" stroke-width="1"/><line x1="855.17" y1="190.5" x2="855.17" y2="198.0" stroke="#000" stroke-width="1"/><rect x="853.62" y="195.4" width="3.1" height="2.5" fill="#ff0000" stroke="#000" stroke-width="0.8"/><line x1="861.55" y1="188.2" x2="861.55" y2="238.0" stroke="#000" stroke-width="1"/><rect x="860.00" y="199.0" width="3.1" height="26.5" fill="#ff0000" stroke="#000" stroke-width="0.8"/><line x1="867.93" y1="202.0" x2="867.93" y2="228.9" stroke="#000" stroke-width="1"/><rect x="866.38" y="207.4" width="3.1" height="18.4" fill="#00ff00" stroke="#000" stroke-width="0.8"/><line x1="874.31" y1="182.9" x2="874.31" y2="210.5" stroke="#000" stroke-width="1"/><rect x="872.76" y="191.0" width="3.1" height="16.4" fill="#00ff00" stroke="#000" stroke-width="0.8"/><line x1="880.69" y1="186.8" x2="880.69" y2="196.5" stroke="#000" stroke-width="1"/><rect x="879.14" y="191.0" width="3.1" height="5.2" fill="#ff0000" stroke="#000" stroke-width="0.8"/><line x1="887.07" y1="186.5" x2="887.07" y2="201.3" stroke="#000" stroke-width="1"/><rect x="885.52" y="186.8" width="3.1" height="9.2" fill="#00ff00" stroke="#000" stroke-width="0.8"/><line x1="893.45" y1="182.9" x2="893.45" y2="196.7" stroke="#000" stroke-width="1"/><rect x="891.90" y="186.8" width="3.1" height="7.6" fill="#ff0000" stroke="#000" stroke-width="0.8"/><line x1="899.83" y1="195.0" x2="899.83" y2="210.5" stroke="#000" stroke-width="1"/><rect x="898.28" y="195.2" width="3.1" height="3.5" fill="#ff0000" stroke="#000" stroke-width="0.8"/><line x1="906.21" y1="195.2" x2="906.21" y2="204.4" stroke="#000" stroke-width="1"/><rect x="904.66" y="199.0" width="3.1" height="3.4" fill="#ff0000" stroke="#000" stroke-width="0.8"/><line x1="912.59" y1="202.5" x2="912.59" y2="225.0" stroke="#000" stroke-width="1"/><rect x="911.04" y="202.8" width="3.1" height="15.8" fill="#ff0000" stroke="#000" stroke-width="0.8"/><line x1="918.97" y1="209.0" x2="918.97" y2="219.5" stroke="#000" stroke-width="1"/><line x1="916.97" y1="219.2" x2="920.97" y2="219.2" stroke="#000" stroke-width="1"/><line x1="925.35" y1="193.6" x2="925.35" y2="221.2" stroke="#000" stroke-width="1"/><rect x="923.80" y="195.2" width="3.1" height="24.9" fill="#00ff00" stroke="#000" stroke-width="0.8"/><line x1="931.73" y1="181.4" x2="931.73" y2="196.7" stroke="#000" stroke-width="1"/><rect x="930.18" y="185.5" width="3.1" height="10.1" fill="#00ff00" stroke="#000" stroke-width="0.8"/><line x1="938.11" y1="181.0" x2="938.11" y2="192.1" stroke="#000" stroke-width="1"/><rect x="936.56" y="181.9" width="3.1" height="3.0" fill="#00ff00" stroke="#000" stroke-width="0.8"/><line x1="944.49" y1="178.3" x2="944.49" y2="188.5" stroke="#000" stroke-width="1"/><rect x="942.94" y="182.2" width="3.1" height="6.1" fill="#ff0000" stroke="#000" stroke-width="0.8"/><line x1="204.41" y1="284.1" x2="204.41" y2="289.5" class="ch" stroke-dashoffset="4.65"/><line x1="210.79" y1="280.2" x2="210.79" y2="289.5" class="ch" stroke-dashoffset="0.75"/><line x1="217.17" y1="277.3" x2="217.17" y2="289.5" class="ch" stroke-dashoffset="2.68"/><line x1="223.55" y1="277.0" x2="223.55" y2="289.5" class="ch" stroke-dashoffset="2.40"/><line x1="229.93" y1="276.8" x2="229.93" y2="289.5" class="ch" stroke-dashoffset="2.25"/><line x1="236.31" y1="269.3" x2="236.31" y2="289.5" class="ch" stroke-dashoffset="4.25"/><line x1="242.69" y1="264.7" x2="242.69" y2="289.5" class="ch" stroke-dashoffset="4.49"/><line x1="249.07" y1="261.0" x2="249.07" y2="289.5" class="ch" stroke-dashoffset="0.77"/><line x1="255.45" y1="258.9" x2="255.45" y2="284.9" class="ch" stroke-dashoffset="3.54"/><line x1="261.83" y1="257.1" x2="261.83" y2="282.1" class="ch" stroke-dashoffset="1.69"/><line x1="268.21" y1="255.8" x2="268.21" y2="279.7" class="ch" stroke-dashoffset="0.42"/><line x1="274.59" y1="255.4" x2="274.59" y2="277.4" class="ch" stroke-dashoffset="4.77"/><line x1="280.97" y1="254.1" x2="280.97" y2="276.0" class="ch" stroke-dashoffset="3.53"/><line x1="287.35" y1="252.7" x2="287.35" y2="274.6" class="ch" stroke-dashoffset="2.13"/><line x1="293.73" y1="249.6" x2="293.73" y2="273.9" class="ch" stroke-dashoffset="3.78"/><line x1="300.11" y1="246.0" x2="300.11" y2="273.2" class="ch" stroke-dashoffset="0.25"/><line x1="306.49" y1="239.2" x2="306.49" y2="271.9" class="ch" stroke-dashoffset="3.01"/><line x1="312.87" y1="232.4" x2="312.87" y2="267.6" class="ch" stroke-dashoffset="0.97"/><line x1="319.25" y1="229.4" x2="319.25" y2="265.4" class="ch" stroke-dashoffset="2.76"/><line x1="325.63" y1="226.8" x2="325.63" y2="263.6" class="ch" stroke-dashoffset="0.19"/><line x1="332.01" y1="226.5" x2="332.01" y2="263.1" class="ch" stroke-dashoffset="4.67"/><line x1="338.39" y1="225.9" x2="338.39" y2="262.7" class="ch" stroke-dashoffset="4.15"/><line x1="344.77" y1="224.5" x2="344.77" y2="262.1" class="ch" stroke-dashoffset="2.66"/><line x1="351.15" y1="221.6" x2="351.15" y2="261.6" class="ch" stroke-dashoffset="4.64"/><line x1="357.53" y1="215.7" x2="357.53" y2="255.7" class="ch" stroke-dashoffset="3.46"/><line x1="363.91" y1="211.7" x2="363.91" y2="254.3" class="ch" stroke-dashoffset="4.34"/><line x1="370.29" y1="207.9" x2="370.29" y2="252.8" class="ch" stroke-dashoffset="0.49"/><line x1="376.67" y1="205.4" x2="376.67" y2="248.4" class="ch" stroke-dashoffset="2.79"/><line x1="383.05" y1="203.2" x2="383.05" y2="247.2" class="ch" stroke-dashoffset="0.61"/><line x1="389.43" y1="202.7" x2="389.43" y2="246.9" class="ch" stroke-dashoffset="0.06"/><line x1="395.81" y1="202.1" x2="395.81" y2="246.5" class="ch" stroke-dashoffset="4.31"/><line x1="402.19" y1="197.9" x2="402.19" y2="246.4" class="ch" stroke-dashoffset="0.07"/><line x1="408.57" y1="194.1" x2="408.57" y2="246.2" class="ch" stroke-dashoffset="1.10"/><line x1="414.95" y1="194.1" x2="414.95" y2="246.1" class="ch" stroke-dashoffset="1.10"/><line x1="421.33" y1="194.1" x2="421.33" y2="246.0" class="ch" stroke-dashoffset="1.07"/><line x1="427.71" y1="193.9" x2="427.71" y2="245.9" class="ch" stroke-dashoffset="0.94"/><line x1="434.09" y1="193.8" x2="434.09" y2="245.7" class="ch" stroke-dashoffset="0.81"/><line x1="440.47" y1="193.5" x2="440.47" y2="245.6" class="ch" stroke-dashoffset="0.48"/><line x1="446.85" y1="191.6" x2="446.85" y2="245.2" class="ch" stroke-dashoffset="3.43"/><line x1="453.23" y1="189.6" x2="453.23" y2="243.6" class="ch" stroke-dashoffset="1.41"/><line x1="459.61" y1="187.5" x2="459.61" y2="242.1" class="ch" stroke-dashoffset="4.07"/><line x1="465.99" y1="185.5" x2="465.99" y2="240.5" class="ch" stroke-dashoffset="2.14"/><line x1="472.37" y1="183.7" x2="472.37" y2="238.9" class="ch" stroke-dashoffset="0.30"/><line x1="478.75" y1="182.6" x2="478.75" y2="234.1" class="ch" stroke-dashoffset="4.04"/><line x1="485.13" y1="185.1" x2="485.13" y2="228.4" class="ch" stroke-dashoffset="1.71"/><line x1="491.51" y1="186.9" x2="491.51" y2="224.5" class="ch" stroke-dashoffset="3.49"/><line x1="497.89" y1="187.2" x2="497.89" y2="224.2" class="ch" stroke-dashoffset="3.77"/><line x1="504.27" y1="187.4" x2="504.27" y2="223.9" class="ch" stroke-dashoffset="4.05"/><line x1="510.65" y1="187.7" x2="510.65" y2="223.5" class="ch" stroke-dashoffset="4.33"/><line x1="517.03" y1="188.0" x2="517.03" y2="223.2" class="ch" stroke-dashoffset="4.61"/><line x1="523.41" y1="187.5" x2="523.41" y2="222.9" class="ch" stroke-dashoffset="4.12"/><line x1="529.79" y1="185.4" x2="529.79" y2="222.2" class="ch" stroke-dashoffset="1.98"/><line x1="536.17" y1="182.9" x2="536.17" y2="215.1" class="ch" stroke-dashoffset="4.25"/><line x1="542.55" y1="179.9" x2="542.55" y2="209.8" class="ch" stroke-dashoffset="1.25"/><line x1="548.93" y1="176.9" x2="548.93" y2="205.9" class="ch" stroke-dashoffset="3.05"/><line x1="555.31" y1="174.3" x2="555.31" y2="201.7" class="ch" stroke-dashoffset="0.54"/><line x1="561.69" y1="172.9" x2="561.69" y2="197.4" class="ch" stroke-dashoffset="3.89"/><line x1="568.07" y1="171.4" x2="568.07" y2="192.1" class="ch" stroke-dashoffset="2.44"/><line x1="574.45" y1="169.6" x2="574.45" y2="187.2" class="ch" stroke-dashoffset="0.56"/><line x1="580.83" y1="167.5" x2="580.83" y2="185.0" class="ch" stroke-dashoffset="3.31"/><line x1="587.21" y1="165.0" x2="587.21" y2="182.8" class="ch" stroke-dashoffset="0.78"/><line x1="593.59" y1="161.0" x2="593.59" y2="181.2" class="ch" stroke-dashoffset="1.60"/><line x1="599.97" y1="156.6" x2="599.97" y2="179.9" class="ch" stroke-dashoffset="1.99"/><line x1="606.35" y1="156.1" x2="606.35" y2="178.8" class="ch" stroke-dashoffset="1.48"/><line x1="612.73" y1="155.6" x2="612.73" y2="177.8" class="ch" stroke-dashoffset="0.98"/><line x1="619.11" y1="155.1" x2="619.11" y2="176.3" class="ch" stroke-dashoffset="0.47"/><line x1="625.49" y1="154.6" x2="625.49" y2="174.8" class="ch" stroke-dashoffset="4.77"/><line x1="631.87" y1="153.3" x2="631.87" y2="172.4" class="ch" stroke-dashoffset="3.52"/><line x1="638.25" y1="150.1" x2="638.25" y2="168.6" class="ch" stroke-dashoffset="0.33"/><line x1="644.63" y1="144.6" x2="644.63" y2="161.1" class="ch" stroke-dashoffset="4.37"/><line x1="651.01" y1="143.2" x2="651.01" y2="158.6" class="ch" stroke-dashoffset="2.99"/><line x1="657.39" y1="141.8" x2="657.39" y2="157.2" class="ch" stroke-dashoffset="1.55"/><line x1="663.77" y1="140.2" x2="663.77" y2="156.6" class="ch" stroke-dashoffset="4.76"/><line x1="670.15" y1="138.6" x2="670.15" y2="156.5" class="ch" stroke-dashoffset="3.16"/><line x1="676.53" y1="136.1" x2="676.53" y2="156.4" class="ch" stroke-dashoffset="0.66"/><line x1="682.91" y1="133.3" x2="682.91" y2="156.3" class="ch" stroke-dashoffset="2.70"/><line x1="689.29" y1="131.2" x2="689.29" y2="156.2" class="ch" stroke-dashoffset="0.60"/><line x1="695.67" y1="129.1" x2="695.67" y2="156.1" class="ch" stroke-dashoffset="3.29"/><line x1="702.05" y1="126.8" x2="702.05" y2="155.9" class="ch" stroke-dashoffset="0.99"/><line x1="708.43" y1="125.0" x2="708.43" y2="155.8" class="ch" stroke-dashoffset="4.04"/><line x1="714.81" y1="123.8" x2="714.81" y2="155.7" class="ch" stroke-dashoffset="2.80"/><line x1="721.19" y1="123.4" x2="721.19" y2="155.7" class="ch" stroke-dashoffset="2.40"/><line x1="727.57" y1="122.9" x2="727.57" y2="155.7" class="ch" stroke-dashoffset="1.87"/><line x1="733.95" y1="122.3" x2="733.95" y2="155.7" class="ch" stroke-dashoffset="1.34"/><line x1="740.33" y1="120.9" x2="740.33" y2="154.7" class="ch" stroke-dashoffset="4.67"/><line x1="746.71" y1="114.5" x2="746.71" y2="148.4" class="ch" stroke-dashoffset="3.09"/><line x1="753.09" y1="108.1" x2="753.09" y2="143.9" class="ch" stroke-dashoffset="1.51"/><line x1="759.47" y1="102.8" x2="759.47" y2="140.7" class="ch" stroke-dashoffset="0.99"/><line x1="765.85" y1="100.2" x2="765.85" y2="139.0" class="ch" stroke-dashoffset="3.17"/><line x1="772.23" y1="99.3" x2="772.23" y2="137.9" class="ch" stroke-dashoffset="2.29"/><line x1="778.61" y1="97.0" x2="778.61" y2="136.9" class="ch" stroke-dashoffset="0.03"/><line x1="784.99" y1="91.6" x2="784.99" y2="133.9" class="ch" stroke-dashoffset="4.15"/><line x1="791.37" y1="85.2" x2="791.37" y2="130.6" class="ch" stroke-dashoffset="2.63"/><line x1="797.75" y1="78.9" x2="797.75" y2="128.1" class="ch" stroke-dashoffset="1.10"/><line x1="804.13" y1="72.8" x2="804.13" y2="125.7" class="ch" stroke-dashoffset="4.58"/><line x1="810.51" y1="70.6" x2="810.51" y2="123.4" class="ch" stroke-dashoffset="2.38"/><line x1="816.89" y1="70.4" x2="816.89" y2="122.0" class="ch" stroke-dashoffset="2.21"/><line x1="823.27" y1="70.2" x2="823.27" y2="120.7" class="ch" stroke-dashoffset="2.04"/><line x1="829.65" y1="70.1" x2="829.65" y2="119.3" class="ch" stroke-dashoffset="1.87"/><line x1="836.03" y1="69.9" x2="836.03" y2="118.1" class="ch" stroke-dashoffset="1.70"/><line x1="842.41" y1="69.4" x2="842.41" y2="116.8" class="ch" stroke-dashoffset="1.18"/><line x1="848.79" y1="68.9" x2="848.79" y2="113.3" class="ch" stroke-dashoffset="0.67"/><line x1="855.17" y1="68.4" x2="855.17" y2="109.3" class="ch" stroke-dashoffset="0.15"/><line x1="861.55" y1="66.9" x2="861.55" y2="105.4" class="ch" stroke-dashoffset="3.51"/><line x1="867.93" y1="63.8" x2="867.93" y2="97.7" class="ch" stroke-dashoffset="0.44"/><line x1="874.31" y1="60.6" x2="874.31" y2="91.8" class="ch" stroke-dashoffset="2.05"/><line x1="880.69" y1="56.5" x2="880.69" y2="88.2" class="ch" stroke-dashoffset="2.73"/><line x1="887.07" y1="52.1" x2="887.07" y2="85.0" class="ch" stroke-dashoffset="3.14"/><line x1="893.45" y1="51.2" x2="893.45" y2="83.2" class="ch" stroke-dashoffset="2.22"/><line x1="899.83" y1="51.6" x2="899.83" y2="82.4" class="ch" stroke-dashoffset="2.63"/><line x1="906.21" y1="65.5" x2="906.21" y2="81.6" class="ch" stroke-dashoffset="2.10"/><line x1="912.59" y1="72.1" x2="912.59" y2="80.9" class="ch" stroke-dashoffset="3.87"/><line x1="918.97" y1="72.6" x2="918.97" y2="80.1" class="ch" stroke-dashoffset="4.40"/><line x1="925.35" y1="73.1" x2="925.35" y2="79.3" class="ch" stroke-dashoffset="0.13"/><line x1="931.73" y1="73.7" x2="931.73" y2="78.5" class="ch" stroke-dashoffset="0.67"/><line x1="950.87" y1="75.0" x2="950.87" y2="80.3" class="ch" stroke-dashoffset="2.02"/><line x1="957.25" y1="74.4" x2="957.25" y2="83.8" class="ch" stroke-dashoffset="1.43"/><polyline points="0.0,287.8 130.0,287.8 160.0,289.5 195.9,289.5 209.8,280.6 217.8,277.0 229.8,277.0 237.7,267.6 249.7,260.6 265.6,256.0 275.6,255.3 287.5,252.7 299.5,246.7 313.4,231.8 325.4,226.8 337.3,226.2 349.3,223.4 357.3,215.8 370.0,208.0 382.0,203.3 395.9,202.1 407.8,194.1 419.8,194.1 439.7,193.7 449.7,190.8 461.6,186.8 477.6,182.2 489.5,186.8 521.4,188.2 533.3,184.2 553.3,174.8 570.0,171.0 585.5,166.0 591.9,162.2 599.8,156.6 630.1,154.2 639.7,149.4 644.5,144.6 655.6,142.2 671.6,138.2 684.3,132.7 692.3,130.3 703.4,126.3 713.0,123.9 720.0,123.5 739.3,121.9 753.3,107.9 762.0,100.7 772.9,99.2 780.0,96.5 803.8,72.9 809.9,70.6 836.0,69.9 855.8,68.3 862.0,66.8 875.8,59.9 888.0,51.5 899.5,50.9 905.4,63.9 909.4,71.8 921.4,72.8 933.3,73.8 941.3,75.9 957.6,74.4" class="cb"/><polyline points="0.0,293.0 250.0,293.0 255.7,284.5 273.6,277.6 287.5,274.6 305.5,272.6 313.4,267.2 325.4,263.6 339.3,262.6 351.3,261.6 357.3,255.7 370.0,253.0 378.0,247.5 395.9,246.5 445.7,245.5 473.6,238.6 489.5,224.6 529.4,222.6 539.3,211.7 549.3,205.7 567.2,193.7 570.0,188.7 587.9,182.6 595.9,180.6 613.8,177.6 629.8,173.7 639.7,167.7 645.7,159.7 659.6,156.7 715.4,155.7 739.3,155.7 749.3,145.8 761.2,139.8 770.0,138.2 780.0,136.7 790.0,131.1 809.9,123.5 828.3,119.6 843.6,116.6 855.8,108.9 862.0,105.1 871.2,93.6 881.9,87.5 890.0,83.6 901.4,82.2 921.4,79.8 944.6,76.8 957.6,84.0" class="cb"/><polyline points="0.0,275.8 15.0,260.4 25.0,255.8 38.0,251.3 50.0,242.8 60.0,236.9 79.9,224.9 95.9,210.5 111.8,208.5 127.7,203.0 139.7,197.0 153.6,190.0 171.6,187.5 189.5,186.9 198.0,183.0 205.0,178.7 218.0,169.5 230.0,169.5 250.0,171.0 270.0,171.3 290.0,166.0 300.0,162.2 326.0,161.9 345.0,162.1 357.0,164.4 370.0,161.0 389.9,145.0 405.9,136.0 419.8,130.0 430.0,122.9 440.0,119.1 454.0,114.2 470.0,114.4 490.0,112.1 510.0,104.9 518.0,102.9 535.0,100.5 555.0,97.5 570.0,99.3 582.0,95.2 590.0,87.4 600.0,78.2 615.0,67.8 630.0,51.4 640.0,38.4 650.0,32.9 663.0,29.9 690.0,19.9 700.0,22.2 710.0,19.6 715.0,15.2 720.0,14.2 733.0,17.9 740.0,11.0 752.0,0.0 775.0,-12.0 799.0,0.0 804.6,2.5 810.9,0.4 815.0,-3.0 827.6,0.0 834.6,5.6 841.6,19.5 852.7,39.7 861.6,48.9 877.5,57.9 891.5,68.8 905.4,84.8 913.4,101.7 921.4,125.6 928.3,157.5 930.0,165.3 938.0,174.5 944.0,173.7" class="bb"/><polyline points="42.0,292.0 54.4,288.0 64.8,283.4 77.7,272.4 90.7,264.0 103.6,255.5 127.7,244.8 151.6,235.0 179.5,221.9 199.4,211.0 219.4,204.0 240.0,198.1 262.0,192.5 280.0,189.4 300.0,185.1 320.0,182.1 345.0,186.6 360.0,185.1 375.0,181.3 401.9,173.4 429.8,168.2 440.0,167.3 459.6,155.0 485.5,141.0 509.4,132.0 540.0,124.7 570.0,116.5 600.0,107.3 620.0,99.6 646.0,86.0 670.0,73.5 700.0,57.0 720.0,49.0 733.0,46.4 750.0,50.7 762.0,58.9 781.9,67.5 801.8,71.8 805.0,73.0 815.0,85.3 821.8,89.8 830.0,100.6 841.7,115.7 861.6,141.6 870.0,150.0 880.0,160.7 900.0,173.7 920.0,186.0 931.0,196.7 944.0,198.7" class="bb"/><polyline points="110.0,292.0 115.8,288.6 127.7,285.7 139.7,282.7 151.6,277.7 165.6,261.8 179.5,251.8 191.5,242.2 203.4,238.2 211.4,239.8 219.4,238.8 231.3,233.9 260.0,215.9 275.0,209.6 300.0,205.0 315.0,200.1 326.0,203.5 330.0,203.9 360.0,206.5 389.9,209.7 403.9,211.3 427.8,213.7 439.7,213.3 452.9,205.8 472.2,182.2 487.2,168.3 498.0,164.0 515.1,159.7 536.6,150.0 553.7,143.6 568.8,136.0 587.9,131.8 609.8,134.8 629.8,139.8 638.7,139.8 659.6,128.8 679.6,113.9 695.0,100.0 710.0,87.3 733.0,74.5 745.0,93.6 760.0,116.6 768.0,127.4 781.9,133.6 801.8,141.6 808.0,145.8 812.0,160.0 817.0,177.5 825.0,195.1 835.9,215.9 843.0,222.3 855.8,231.1 861.4,239.8 868.5,247.8 882.9,255.8 895.6,260.6 911.6,263.4 919.5,255.8 927.5,239.8 932.3,225.5 937.0,222.3 944.2,223.1" class="bb"/><polyline points="0.0,287.2 20.0,287.2 25.0,285.0 32.0,281.9 40.0,275.8 51.0,266.6 64.0,266.6 72.0,258.8 85.9,249.8 95.9,246.8 102.8,240.8 115.8,239.8 121.8,237.8 127.7,228.9 140.0,220.4 147.0,215.1 153.6,212.9 177.5,209.0 185.5,209.0 198.0,195.2 205.0,194.3 218.0,190.5 240.0,189.0 245.0,187.0 270.0,187.4 280.0,189.0 300.0,180.5 315.0,175.6 320.0,181.3 330.0,185.9 345.0,187.4 355.0,189.7 365.0,188.9 375.0,182.8 383.0,177.4 390.0,171.3 403.0,171.2 410.0,165.8 420.0,160.2 426.0,152.8 434.0,144.5 450.0,142.8 459.6,141.0 471.6,136.0 480.0,129.7 495.0,127.4 505.0,122.8 518.0,119.8 522.0,116.2 545.0,116.2 575.0,115.8 582.0,109.0 586.0,103.5 595.0,92.7 610.0,90.4 615.0,89.7 625.0,82.5 635.0,72.1 646.0,59.8 660.0,58.2 690.0,56.7 702.0,55.9 714.6,46.3 722.1,40.2 733.9,40.2 736.1,46.8 741.4,72.0 745.0,73.0 772.0,72.4 796.9,103.3 803.8,103.3 812.8,131.6 815.8,133.6 827.7,135.6 835.7,144.5 855.6,145.5 862.0,163.0 867.0,198.2 870.0,201.3 880.0,207.4 910.0,208.2 920.0,205.9 930.0,203.6 944.0,202.4" class="tk"/><polyline points="38.0,292.0 46.0,286.8 64.0,287.3 72.0,277.7 85.9,269.7 129.7,269.7 139.7,263.7 147.6,249.8 159.6,238.8 185.5,237.8 191.5,229.9 203.4,225.9 211.4,217.9 225.3,215.9 237.3,204.0 250.0,199.7 280.0,198.9 300.0,194.3 310.0,189.0 326.0,187.9 360.0,186.6 370.0,182.8 389.9,172.8 421.0,173.9 434.0,168.9 459.6,168.8 471.6,165.9 479.6,158.9 497.5,154.9 509.4,154.9 517.4,147.9 529.4,142.0 543.3,131.0 561.2,131.0 575.0,128.9 582.0,121.2 587.9,113.9 605.9,106.9 625.0,94.7 632.0,84.3 640.0,82.8 660.0,80.4 695.0,78.4 705.0,70.4 714.0,63.0 735.0,63.0 742.0,71.4 750.0,72.5 803.8,72.4 809.8,93.7 815.8,102.7 823.8,103.3 835.7,112.7 854.6,112.7 861.6,122.6 879.5,123.6 905.4,154.5 944.3,154.5" class="kj"/></svg><polyline points="0.0,317.4 5.0,318.1 11.2,316.9 19.9,322.9 24.9,322.9 32.4,326.1 44.8,319.4 51.0,321.1 63.5,319.9 74.7,314.4 83.4,311.9 95.9,314.9 102.1,314.2 112.0,315.9 127.0,314.9 139.4,312.9 151.9,308.7 164.3,311.9 171.8,310.4 179.3,318.6 185.5,314.9 198.0,311.2 204.2,317.9 210.4,313.9 216.6,316.9 224.1,327.4 231.6,326.9 240.0,324.9 250.0,322.9 256.2,322.4 262.4,321.1 268.6,323.1 277.4,319.9 287.3,318.1 294.8,318.6 306.0,321.9 313.5,321.9 325.9,337.3 333.4,334.8 338.4,336.6 347.1,332.3 362.0,324.9 370.7,319.9 383.2,315.4 388.2,315.9 396.9,319.4 403.1,318.1 409.3,319.9 419.3,318.6 426.8,314.9 434.2,321.1 440.4,321.1 446.7,318.6 459.1,318.6 469.1,315.6 477.8,312.4 485.0,311.9 491.2,311.2 497.4,310.4 503.7,321.9 511.1,320.4 517.4,321.6 523.6,319.4 529.8,322.9 538.5,317.9 542.3,317.4 549.7,321.1 555.9,319.9 562.2,321.9 568.4,323.1 578.4,317.9 588.3,312.9 594.5,312.4 600.8,311.2 607.0,314.2 613.2,311.2 624.4,309.4 631.9,307.4 637.4,306.2 644.3,316.9 650.6,314.9 658.0,324.9 664.3,323.6 671.7,319.1 679.2,317.9 689.2,316.1 701.6,321.1 709.1,315.6 714.1,314.2 721.5,322.4 727.5,328.6 733.7,332.3 739.9,341.8 746.1,342.3 752.4,344.3 758.6,343.0 764.8,342.8 772.3,339.8 784.7,336.1 791.7,331.1 798.4,333.6 804.2,335.3 810.9,347.8 817.1,350.5 823.3,347.8 835.8,351.0 843.3,347.3 855.7,347.3 861.9,350.3 869.4,344.8 875.6,341.0 879.4,341.8 886.8,339.1 894.3,341.0 904.3,341.8 913.0,344.3 919.2,344.3 926.7,336.8 932.9,334.3 939.1,333.6 944.1,335.3" class="ind"/><rect x="-0.75" y="395.5" width="2.2" height="8.1" fill="#0000ff"/><rect x="5.63" y="393.1" width="2.2" height="10.5" fill="#0000ff"/><rect x="12.01" y="390.7" width="2.2" height="12.9" fill="#0000ff"/><rect x="18.39" y="390.7" width="2.2" height="12.9" fill="#0000ff"/><rect x="24.77" y="390.7" width="2.2" height="12.9" fill="#0000ff"/><rect x="31.15" y="390.7" width="2.2" height="12.9" fill="#0000ff"/><rect x="37.53" y="390.7" width="2.2" height="12.9" fill="#0000ff"/><rect x="43.91" y="389.1" width="2.2" height="14.5" fill="#0000ff"/><rect x="50.29" y="388.3" width="2.2" height="15.3" fill="#0000ff"/><rect x="56.67" y="387.5" width="2.2" height="16.1" fill="#0000ff"/><rect x="63.05" y="387.2" width="2.2" height="16.4" fill="#0000ff"/><rect x="69.43" y="385.9" width="2.2" height="17.7" fill="#0000ff"/><rect x="75.81" y="383.5" width="2.2" height="20.1" fill="#0000ff"/><rect x="82.19" y="381.2" width="2.2" height="22.4" fill="#0000ff"/><rect x="88.57" y="380.4" width="2.2" height="23.2" fill="#0000ff"/><rect x="94.95" y="379.9" width="2.2" height="23.7" fill="#0000ff"/><rect x="101.33" y="379.6" width="2.2" height="24.0" fill="#0000ff"/><rect x="107.71" y="379.9" width="2.2" height="23.7" fill="#0000ff"/><rect x="114.09" y="380.4" width="2.2" height="23.2" fill="#0000ff"/><rect x="120.47" y="380.4" width="2.2" height="23.2" fill="#0000ff"/><rect x="126.85" y="380.4" width="2.2" height="23.2" fill="#0000ff"/><rect x="133.23" y="380.4" width="2.2" height="23.2" fill="#0000ff"/><rect x="139.61" y="380.4" width="2.2" height="23.2" fill="#0000ff"/><rect x="145.99" y="380.4" width="2.2" height="23.2" fill="#0000ff"/><rect x="152.37" y="380.5" width="2.2" height="23.1" fill="#0000ff"/><rect x="158.75" y="380.5" width="2.2" height="23.1" fill="#0000ff"/><rect x="165.13" y="380.5" width="2.2" height="23.1" fill="#0000ff"/><rect x="171.51" y="380.5" width="2.2" height="23.1" fill="#0000ff"/><rect x="177.89" y="380.5" width="2.2" height="23.1" fill="#0000ff"/><rect x="184.27" y="380.5" width="2.2" height="23.1" fill="#0000ff"/><rect x="190.65" y="380.5" width="2.2" height="23.1" fill="#0000ff"/><rect x="197.03" y="380.5" width="2.2" height="23.1" fill="#0000ff"/><rect x="203.41" y="380.5" width="2.2" height="23.1" fill="#0000ff"/><rect x="209.79" y="379.5" width="2.2" height="24.1" fill="#0000ff"/><rect x="216.17" y="379.5" width="2.2" height="24.1" fill="#0000ff"/><rect x="222.55" y="380.5" width="2.2" height="23.1" fill="#0000ff"/><rect x="228.93" y="383.7" width="2.2" height="19.9" fill="#0000ff"/><rect x="235.31" y="384.9" width="2.2" height="18.7" fill="#0000ff"/><rect x="241.69" y="386.2" width="2.2" height="17.4" fill="#0000ff"/><rect x="248.07" y="386.9" width="2.2" height="16.7" fill="#0000ff"/><rect x="254.45" y="386.9" width="2.2" height="16.7" fill="#0000ff"/><rect x="260.83" y="387.4" width="2.2" height="16.2" fill="#0000ff"/><rect x="267.21" y="387.9" width="2.2" height="15.7" fill="#0000ff"/><rect x="273.59" y="387.9" width="2.2" height="15.7" fill="#0000ff"/><rect x="279.97" y="387.9" width="2.2" height="15.7" fill="#0000ff"/><rect x="286.35" y="387.9" width="2.2" height="15.7" fill="#0000ff"/><rect x="292.73" y="387.9" width="2.2" height="15.7" fill="#0000ff"/><rect x="299.11" y="387.9" width="2.2" height="15.7" fill="#0000ff"/><rect x="305.49" y="387.9" width="2.2" height="15.7" fill="#0000ff"/><rect x="311.87" y="388.7" width="2.2" height="14.9" fill="#0000ff"/><rect x="318.25" y="391.9" width="2.2" height="11.7" fill="#0000ff"/><rect x="324.63" y="394.4" width="2.2" height="9.2" fill="#0000ff"/><rect x="331.01" y="396.9" width="2.2" height="6.7" fill="#0000ff"/><rect x="337.39" y="399.4" width="2.2" height="4.2" fill="#0000ff"/><rect x="343.77" y="400.6" width="2.2" height="3.0" fill="#0000ff"/><rect x="350.15" y="401.4" width="2.2" height="2.2" fill="#0000ff"/><rect x="356.53" y="400.9" width="2.2" height="2.7" fill="#0000ff"/><rect x="362.91" y="399.4" width="2.2" height="4.2" fill="#0000ff"/><rect x="369.29" y="397.9" width="2.2" height="5.7" fill="#0000ff"/><rect x="375.67" y="394.9" width="2.2" height="8.7" fill="#0000ff"/><rect x="382.05" y="392.4" width="2.2" height="11.2" fill="#0000ff"/><rect x="388.43" y="389.9" width="2.2" height="13.7" fill="#0000ff"/><rect x="394.81" y="389.4" width="2.2" height="14.2" fill="#0000ff"/><rect x="401.19" y="388.4" width="2.2" height="15.2" fill="#0000ff"/><rect x="407.57" y="388.4" width="2.2" height="15.2" fill="#0000ff"/><rect x="413.95" y="388.4" width="2.2" height="15.2" fill="#0000ff"/><rect x="420.33" y="387.9" width="2.2" height="15.7" fill="#0000ff"/><rect x="426.71" y="386.9" width="2.2" height="16.7" fill="#0000ff"/><rect x="433.09" y="386.9" width="2.2" height="16.7" fill="#0000ff"/><rect x="439.47" y="386.9" width="2.2" height="16.7" fill="#0000ff"/><rect x="445.85" y="386.9" width="2.2" height="16.7" fill="#0000ff"/><rect x="452.23" y="387.4" width="2.2" height="16.2" fill="#0000ff"/><rect x="458.61" y="387.4" width="2.2" height="16.2" fill="#0000ff"/><rect x="464.99" y="387.4" width="2.2" height="16.2" fill="#0000ff"/><rect x="471.37" y="386.2" width="2.2" height="17.4" fill="#0000ff"/><rect x="477.75" y="384.4" width="2.2" height="19.2" fill="#0000ff"/><rect x="484.13" y="383.7" width="2.2" height="19.9" fill="#0000ff"/><rect x="490.51" y="383.7" width="2.2" height="19.9" fill="#0000ff"/><rect x="496.89" y="382.9" width="2.2" height="20.7" fill="#0000ff"/><rect x="503.27" y="384.9" width="2.2" height="18.7" fill="#0000ff"/><rect x="509.65" y="384.9" width="2.2" height="18.7" fill="#0000ff"/><rect x="516.03" y="385.4" width="2.2" height="18.2" fill="#0000ff"/><rect x="522.41" y="386.9" width="2.2" height="16.7" fill="#0000ff"/><rect x="528.79" y="387.4" width="2.2" height="16.2" fill="#0000ff"/><rect x="535.17" y="387.4" width="2.2" height="16.2" fill="#0000ff"/><rect x="541.55" y="387.4" width="2.2" height="16.2" fill="#0000ff"/><rect x="547.93" y="387.4" width="2.2" height="16.2" fill="#0000ff"/><rect x="554.31" y="388.7" width="2.2" height="14.9" fill="#0000ff"/><rect x="560.69" y="388.7" width="2.2" height="14.9" fill="#0000ff"/><rect x="567.07" y="388.7" width="2.2" height="14.9" fill="#0000ff"/><rect x="573.45" y="389.4" width="2.2" height="14.2" fill="#0000ff"/><rect x="579.83" y="387.9" width="2.2" height="15.7" fill="#0000ff"/><rect x="586.21" y="386.9" width="2.2" height="16.7" fill="#0000ff"/><rect x="592.59" y="386.2" width="2.2" height="17.4" fill="#0000ff"/><rect x="598.97" y="384.4" width="2.2" height="19.2" fill="#0000ff"/><rect x="605.35" y="383.7" width="2.2" height="19.9" fill="#0000ff"/><rect x="611.73" y="382.5" width="2.2" height="21.1" fill="#0000ff"/><rect x="618.11" y="381.2" width="2.2" height="22.4" fill="#0000ff"/><rect x="624.49" y="380.5" width="2.2" height="23.1" fill="#0000ff"/><rect x="630.87" y="378.0" width="2.2" height="25.6" fill="#0000ff"/><rect x="637.25" y="376.2" width="2.2" height="27.4" fill="#0000ff"/><rect x="643.63" y="377.0" width="2.2" height="26.6" fill="#0000ff"/><rect x="650.01" y="377.5" width="2.2" height="26.1" fill="#0000ff"/><rect x="656.39" y="380.0" width="2.2" height="23.6" fill="#0000ff"/><rect x="662.77" y="380.5" width="2.2" height="23.1" fill="#0000ff"/><rect x="669.15" y="380.0" width="2.2" height="23.6" fill="#0000ff"/><rect x="675.53" y="380.0" width="2.2" height="23.6" fill="#0000ff"/><rect x="681.91" y="380.0" width="2.2" height="23.6" fill="#0000ff"/><rect x="688.29" y="380.0" width="2.2" height="23.6" fill="#0000ff"/><rect x="694.67" y="380.5" width="2.2" height="23.1" fill="#0000ff"/><rect x="701.05" y="380.5" width="2.2" height="23.1" fill="#0000ff"/><rect x="707.43" y="380.0" width="2.2" height="23.6" fill="#0000ff"/><rect x="713.81" y="379.5" width="2.2" height="24.1" fill="#0000ff"/><rect x="720.19" y="380.5" width="2.2" height="23.1" fill="#0000ff"/><rect x="726.57" y="382.9" width="2.2" height="20.7" fill="#0000ff"/><rect x="732.95" y="386.9" width="2.2" height="16.7" fill="#0000ff"/><rect x="739.33" y="394.4" width="2.2" height="9.2" fill="#0000ff"/><rect x="745.71" y="399.9" width="2.2" height="3.7" fill="#0000ff"/><rect x="752.09" y="403.6" width="2.2" height="2.5" fill="#0000ff"/><rect x="758.47" y="403.6" width="2.2" height="7.5" fill="#0000ff"/><rect x="764.85" y="403.6" width="2.2" height="11.2" fill="#0000ff"/><rect x="771.23" y="403.6" width="2.2" height="12.5" fill="#0000ff"/><rect x="777.61" y="403.6" width="2.2" height="12.5" fill="#0000ff"/><rect x="783.99" y="403.6" width="2.2" height="12.5" fill="#0000ff"/><rect x="790.37" y="403.6" width="2.2" height="10.7" fill="#0000ff"/><rect x="796.75" y="403.6" width="2.2" height="8.7" fill="#0000ff"/><rect x="803.13" y="403.6" width="2.2" height="9.2" fill="#0000ff"/><rect x="809.51" y="403.6" width="2.2" height="17.4" fill="#0000ff"/><rect x="815.89" y="403.6" width="2.2" height="24.9" fill="#0000ff"/><rect x="822.27" y="403.6" width="2.2" height="29.9" fill="#0000ff"/><rect x="828.65" y="403.6" width="2.2" height="34.9" fill="#0000ff"/><rect x="835.03" y="403.6" width="2.2" height="39.6" fill="#0000ff"/><rect x="841.41" y="403.6" width="2.2" height="41.1" fill="#0000ff"/><rect x="847.79" y="403.6" width="2.2" height="42.6" fill="#0000ff"/><rect x="854.17" y="403.6" width="2.2" height="42.6" fill="#0000ff"/><rect x="860.55" y="403.6" width="2.2" height="45.6" fill="#0000ff"/><rect x="866.93" y="403.6" width="2.2" height="45.6" fill="#0000ff"/><rect x="873.31" y="403.6" width="2.2" height="43.4" fill="#0000ff"/><rect x="879.69" y="403.6" width="2.2" height="41.1" fill="#0000ff"/><rect x="886.07" y="403.6" width="2.2" height="38.4" fill="#0000ff"/><rect x="892.45" y="403.6" width="2.2" height="37.0" fill="#0000ff"/><rect x="898.83" y="403.6" width="2.2" height="35.5" fill="#0000ff"/><rect x="905.21" y="403.6" width="2.2" height="34.9" fill="#0000ff"/><rect x="911.59" y="403.6" width="2.2" height="34.4" fill="#0000ff"/><rect x="917.97" y="403.6" width="2.2" height="34.9" fill="#0000ff"/><rect x="924.35" y="403.6" width="2.2" height="32.2" fill="#0000ff"/><rect x="930.73" y="403.6" width="2.2" height="28.0" fill="#0000ff"/><rect x="937.11" y="403.6" width="2.2" height="25.0" fill="#0000ff"/><rect x="943.49" y="403.6" width="2.2" height="22.5" fill="#0000ff"/><polyline points="0.0,403.1 6.4,401.9 15.9,398.7 28.7,394.7 44.6,391.5 57.4,389.4 73.3,388.8 82.9,386.7 95.6,384.3 105.2,382.0 121.1,380.8 127.5,380.4 160.0,380.4 209.8,380.0 229.7,380.5 242.1,381.2 257.1,384.2 279.5,387.4 311.8,387.9 329.3,389.9 349.2,393.7 366.6,397.4 389.0,397.4 400.0,394.9 409.9,392.9 422.4,389.9 444.8,387.4 472.2,386.2 494.6,384.9 519.5,384.2 544.4,385.4 569.3,387.9 594.2,387.9 614.1,386.9 626.6,384.9 642.5,381.2 667.4,379.2 692.3,379.5 729.6,380.5 742.0,383.7 754.5,389.9 769.4,398.6 784.4,406.9 799.3,412.3 816.8,416.1 835.0,424.6 849.9,432.0 861.9,439.5 872.3,443.2 882.8,445.5 893.2,445.5 903.7,444.0 917.2,441.4 930.6,438.0 939.6,435.5 944.5,434.6" fill="none" stroke="#ff0000" stroke-width="2"/><polyline points="0.0,473.9 6.2,476.4 13.7,479.4 19.9,478.1 26.1,473.9 32.4,476.9 38.6,475.7 46.1,468.9 52.3,471.4 58.5,473.7 64.7,474.9 71.0,467.4 77.2,468.9 84.7,471.4 95.9,477.6 107.1,477.6 114.5,476.4 120.8,479.9 127.0,482.4 134.5,479.9 140.7,473.2 149.4,473.2 158.1,478.1 165.6,481.4 173.0,477.6 179.3,480.6 193.0,470.7 199.2,472.4 204.7,476.9 216.6,468.9 224.1,477.4 230.3,481.4 236.6,483.1 242.8,481.4 250.0,481.4 254.9,482.4 261.9,480.1 268.6,483.1 279.8,483.1 287.3,478.9 296.0,483.1 304.7,481.4 312.2,479.4 325.9,485.6 338.4,486.9 349.6,484.4 362.0,483.9 375.7,478.9 383.2,477.6 395.6,479.4 408.1,474.9 414.3,480.6 420.5,480.6 434.2,473.2 441.7,476.9 446.7,477.6 454.1,481.4 461.6,481.4 471.6,479.4 480.3,474.9 485.3,474.4 491.2,476.9 498.7,476.9 504.9,479.4 511.1,478.1 522.3,474.9 529.8,478.6 536.8,476.9 548.5,481.1 562.2,483.1 568.4,483.1 579.6,480.6 587.6,473.9 593.3,474.9 600.8,477.4 607.0,476.9 614.5,472.4 624.4,470.7 631.9,460.7 638.1,466.4 645.6,469.4 651.8,468.2 658.0,468.9 664.3,471.4 669.7,469.9 676.7,474.4 682.9,477.4 689.2,474.9 696.6,479.4 701.6,480.1 709.1,480.1 714.1,478.6 721.5,482.4 726.2,481.9 732.5,486.4 740.4,495.6 746.1,490.6 753.6,500.6 761.1,502.5 769.8,501.3 778.5,494.8 786.0,491.3 792.2,491.3 798.4,494.3 804.7,505.5 810.9,540.4 815.9,531.7 823.3,504.8 829.6,501.3 835.8,502.3 842.0,494.3 848.2,493.1 855.2,488.9 861.9,501.3 868.2,508.0 874.4,518.7 879.4,508.0 885.6,499.8 893.1,486.4 899.3,484.4 905.5,486.9 911.7,488.6 919.2,485.6 929.2,481.9 936.6,480.1 944.1,479.4" class="ind"/><rect x="-0.75" y="600.0" width="2.3" height="36.0" fill="#ff0000"/><rect x="5.63" y="613.2" width="2.3" height="22.8" fill="#ff0000"/><rect x="12.01" y="619.6" width="2.3" height="16.4" fill="#ff0000"/><rect x="18.39" y="609.2" width="2.3" height="26.8" fill="#008000"/><rect x="24.77" y="603.2" width="2.3" height="32.8" fill="#008000"/><rect x="31.15" y="607.6" width="2.3" height="28.4" fill="#ff0000"/><rect x="37.53" y="598.9" width="2.3" height="37.1" fill="#008000"/><rect x="43.91" y="597.3" width="2.3" height="38.7" fill="#008000"/><rect x="50.29" y="603.6" width="2.3" height="32.4" fill="#ff0000"/><rect x="56.67" y="610.0" width="2.3" height="26.0" fill="#ff0000"/><rect x="63.05" y="603.6" width="2.3" height="32.4" fill="#008000"/><rect x="69.43" y="586.1" width="2.3" height="49.9" fill="#008000"/><rect x="75.81" y="578.9" width="2.3" height="57.1" fill="#008000"/><rect x="82.19" y="586.9" width="2.3" height="49.1" fill="#ff0000"/><rect x="88.57" y="598.1" width="2.3" height="37.9" fill="#ff0000"/><rect x="94.95" y="610.0" width="2.3" height="26.0" fill="#ff0000"/><rect x="101.33" y="617.2" width="2.3" height="18.8" fill="#ff0000"/><rect x="107.71" y="616.4" width="2.3" height="19.6" fill="#008000"/><rect x="114.09" y="617.2" width="2.3" height="18.8" fill="#ff0000"/><rect x="120.47" y="628.2" width="2.3" height="7.8" fill="#ff0000"/><rect x="126.85" y="631.5" width="2.3" height="4.5" fill="#ff0000"/><rect x="133.23" y="623.6" width="2.3" height="12.4" fill="#008000"/><rect x="139.61" y="595.7" width="2.3" height="40.3" fill="#008000"/><rect x="145.99" y="603.6" width="2.3" height="32.4" fill="#ff0000"/><rect x="152.37" y="607.6" width="2.3" height="28.4" fill="#ff0000"/><rect x="158.75" y="618.6" width="2.3" height="17.4" fill="#ff0000"/><rect x="165.13" y="612.4" width="2.3" height="23.6" fill="#008000"/><rect x="171.51" y="602.8" width="2.3" height="33.2" fill="#008000"/><rect x="177.89" y="604.4" width="2.3" height="31.6" fill="#ff0000"/><rect x="184.27" y="590.1" width="2.3" height="45.9" fill="#008000"/><rect x="190.65" y="582.9" width="2.3" height="53.1" fill="#008000"/><rect x="197.03" y="598.9" width="2.3" height="37.1" fill="#ff0000"/><rect x="203.41" y="605.2" width="2.3" height="30.8" fill="#ff0000"/><rect x="209.79" y="598.1" width="2.3" height="37.9" fill="#008000"/><rect x="216.17" y="576.6" width="2.3" height="59.4" fill="#008000"/><rect x="222.55" y="563.8" width="2.3" height="72.2" fill="#008000"/><rect x="228.93" y="578.9" width="2.3" height="57.1" fill="#ff0000"/><rect x="235.31" y="593.1" width="2.3" height="42.9" fill="#ff0000"/><rect x="241.69" y="602.8" width="2.3" height="33.2" fill="#ff0000"/><rect x="248.07" y="609.2" width="2.3" height="26.8" fill="#ff0000"/><rect x="254.45" y="614.8" width="2.3" height="21.2" fill="#ff0000"/><rect x="260.83" y="618.8" width="2.3" height="17.2" fill="#ff0000"/><rect x="267.21" y="624.4" width="2.3" height="11.6" fill="#ff0000"/><rect x="273.59" y="627.6" width="2.3" height="8.4" fill="#ff0000"/><rect x="279.97" y="619.4" width="2.3" height="16.6" fill="#008000"/><rect x="286.35" y="599.7" width="2.3" height="36.3" fill="#008000"/><rect x="292.73" y="608.4" width="2.3" height="27.6" fill="#ff0000"/><rect x="299.11" y="616.4" width="2.3" height="19.6" fill="#ff0000"/><rect x="305.49" y="622.0" width="2.3" height="14.0" fill="#ff0000"/><rect x="311.87" y="611.6" width="2.3" height="24.4" fill="#008000"/><rect x="318.25" y="597.3" width="2.3" height="38.7" fill="#008000"/><rect x="324.63" y="601.3" width="2.3" height="34.7" fill="#ff0000"/><rect x="331.01" y="602.1" width="2.3" height="33.9" fill="#ff0000"/><rect x="337.39" y="606.0" width="2.3" height="30.0" fill="#ff0000"/><rect x="343.77" y="607.6" width="2.3" height="28.4" fill="#ff0000"/><rect x="350.15" y="609.2" width="2.3" height="26.8" fill="#ff0000"/><rect x="356.53" y="605.2" width="2.3" height="30.8" fill="#008000"/><rect x="362.91" y="588.5" width="2.3" height="47.5" fill="#008000"/><rect x="369.29" y="584.5" width="2.3" height="51.5" fill="#008000"/><rect x="375.67" y="590.1" width="2.3" height="45.9" fill="#ff0000"/><rect x="382.05" y="598.1" width="2.3" height="37.9" fill="#ff0000"/><rect x="388.43" y="607.6" width="2.3" height="28.4" fill="#ff0000"/><rect x="394.81" y="608.4" width="2.3" height="27.6" fill="#ff0000"/><rect x="401.19" y="612.4" width="2.3" height="23.6" fill="#ff0000"/><rect x="407.57" y="610.0" width="2.3" height="26.0" fill="#008000"/><rect x="413.95" y="625.2" width="2.3" height="10.8" fill="#ff0000"/><rect x="420.33" y="628.3" width="2.3" height="7.7" fill="#ff0000"/><rect x="426.71" y="618.0" width="2.3" height="18.0" fill="#008000"/><rect x="433.09" y="601.3" width="2.3" height="34.7" fill="#008000"/><rect x="439.47" y="610.8" width="2.3" height="25.2" fill="#ff0000"/><rect x="445.85" y="614.0" width="2.3" height="22.0" fill="#ff0000"/><rect x="452.23" y="624.4" width="2.3" height="11.6" fill="#ff0000"/><rect x="458.61" y="611.6" width="2.3" height="24.4" fill="#008000"/><rect x="464.99" y="609.2" width="2.3" height="26.8" fill="#008000"/><rect x="471.37" y="608.4" width="2.3" height="27.6" fill="#008000"/><rect x="477.75" y="602.1" width="2.3" height="33.9" fill="#008000"/><rect x="484.13" y="596.5" width="2.3" height="39.5" fill="#008000"/><rect x="490.51" y="612.4" width="2.3" height="23.6" fill="#ff0000"/><rect x="496.89" y="610.8" width="2.3" height="25.2" fill="#008000"/><rect x="503.27" y="604.4" width="2.3" height="31.6" fill="#008000"/><rect x="509.65" y="582.1" width="2.3" height="53.9" fill="#008000"/><rect x="516.03" y="580.5" width="2.3" height="55.5" fill="#008000"/><rect x="522.41" y="584.5" width="2.3" height="51.5" fill="#ff0000"/><rect x="528.79" y="584.5" width="2.3" height="51.5" fill="#ff0000"/><rect x="535.17" y="601.3" width="2.3" height="34.7" fill="#ff0000"/><rect x="541.55" y="610.0" width="2.3" height="26.0" fill="#ff0000"/><rect x="547.93" y="611.6" width="2.3" height="24.4" fill="#ff0000"/><rect x="554.31" y="621.2" width="2.3" height="14.8" fill="#ff0000"/><rect x="560.69" y="626.0" width="2.3" height="10.0" fill="#ff0000"/><rect x="567.07" y="628.3" width="2.3" height="7.7" fill="#ff0000"/><rect x="573.45" y="620.4" width="2.3" height="15.6" fill="#008000"/><rect x="579.83" y="597.3" width="2.3" height="38.7" fill="#008000"/><rect x="586.21" y="602.1" width="2.3" height="33.9" fill="#ff0000"/><rect x="592.59" y="600.5" width="2.3" height="35.5" fill="#008000"/><rect x="598.97" y="614.8" width="2.3" height="21.2" fill="#ff0000"/><rect x="605.35" y="606.0" width="2.3" height="30.0" fill="#008000"/><rect x="611.73" y="605.2" width="2.3" height="30.8" fill="#008000"/><rect x="618.11" y="596.5" width="2.3" height="39.5" fill="#008000"/><rect x="624.49" y="590.9" width="2.3" height="45.1" fill="#008000"/><rect x="630.87" y="576.6" width="2.3" height="59.4" fill="#008000"/><rect x="637.25" y="596.5" width="2.3" height="39.5" fill="#ff0000"/><rect x="643.63" y="594.1" width="2.3" height="41.9" fill="#008000"/><rect x="650.01" y="597.3" width="2.3" height="38.7" fill="#ff0000"/><rect x="656.39" y="574.2" width="2.3" height="61.8" fill="#008000"/><rect x="662.77" y="575.8" width="2.3" height="60.2" fill="#ff0000"/><rect x="669.15" y="572.6" width="2.3" height="63.4" fill="#008000"/><rect x="675.53" y="596.5" width="2.3" height="39.5" fill="#ff0000"/><rect x="681.91" y="610.8" width="2.3" height="25.2" fill="#ff0000"/><rect x="688.29" y="606.8" width="2.3" height="29.2" fill="#008000"/><rect x="694.67" y="614.8" width="2.3" height="21.2" fill="#ff0000"/><rect x="701.05" y="612.4" width="2.3" height="23.6" fill="#008000"/><rect x="707.43" y="622.0" width="2.3" height="14.0" fill="#ff0000"/><rect x="713.81" y="610.3" width="2.3" height="25.7" fill="#008000"/><rect x="720.19" y="610.8" width="2.3" height="25.2" fill="#ff0000"/><rect x="726.57" y="574.2" width="2.3" height="61.8" fill="#008000"/><rect x="732.95" y="592.5" width="2.3" height="43.5" fill="#ff0000"/><rect x="739.33" y="583.7" width="2.3" height="52.3" fill="#008000"/><rect x="745.71" y="605.2" width="2.3" height="30.8" fill="#ff0000"/><rect x="752.09" y="595.7" width="2.3" height="40.3" fill="#008000"/><rect x="758.47" y="592.5" width="2.3" height="43.5" fill="#008000"/><rect x="764.85" y="594.1" width="2.3" height="41.9" fill="#ff0000"/><rect x="771.23" y="596.5" width="2.3" height="39.5" fill="#ff0000"/><rect x="777.61" y="606.0" width="2.3" height="30.0" fill="#ff0000"/><rect x="783.99" y="610.8" width="2.3" height="25.2" fill="#ff0000"/><rect x="790.37" y="610.8" width="2.3" height="25.2" fill="#008000"/><rect x="796.75" y="612.4" width="2.3" height="23.6" fill="#ff0000"/><rect x="803.13" y="580.5" width="2.3" height="55.5" fill="#008000"/><rect x="809.51" y="552.6" width="2.3" height="83.4" fill="#008000"/><rect x="815.89" y="575.0" width="2.3" height="61.0" fill="#ff0000"/><rect x="822.27" y="589.3" width="2.3" height="46.7" fill="#ff0000"/><rect x="828.65" y="601.3" width="2.3" height="34.7" fill="#ff0000"/><rect x="835.03" y="599.7" width="2.3" height="36.3" fill="#008000"/><rect x="841.41" y="613.2" width="2.3" height="22.8" fill="#ff0000"/><rect x="847.79" y="614.8" width="2.3" height="21.2" fill="#ff0000"/><rect x="854.17" y="626.8" width="2.3" height="9.2" fill="#ff0000"/><rect x="860.55" y="610.0" width="2.3" height="26.0" fill="#008000"/><rect x="866.93" y="598.1" width="2.3" height="37.9" fill="#008000"/><rect x="873.31" y="582.1" width="2.3" height="53.9" fill="#008000"/><rect x="879.69" y="599.7" width="2.3" height="36.3" fill="#ff0000"/><rect x="886.07" y="608.4" width="2.3" height="27.6" fill="#ff0000"/><rect x="892.45" y="621.2" width="2.3" height="14.8" fill="#ff0000"/><rect x="898.83" y="607.6" width="2.3" height="28.4" fill="#008000"/><rect x="905.21" y="599.7" width="2.3" height="36.3" fill="#008000"/><rect x="911.59" y="603.5" width="2.3" height="32.5" fill="#ff0000"/><rect x="917.97" y="598.8" width="2.3" height="37.2" fill="#008000"/><rect x="924.35" y="598.1" width="2.3" height="37.9" fill="#008000"/><rect x="930.73" y="604.3" width="2.3" height="31.7" fill="#ff0000"/><rect x="937.11" y="609.0" width="2.3" height="27.0" fill="#ff0000"/><rect x="943.49" y="619.5" width="2.3" height="16.5" fill="#ff0000"/><rect x="0" y="290" width="963" height="1" fill="#404040"/><rect x="0" y="291" width="963" height="1" fill="#a0a0a0"/><rect x="0" y="292" width="963" height="1" fill="#404040"/><rect x="0" y="369.6" width="963" height="1" fill="#505050"/><rect x="0" y="370.6" width="963" height="1" fill="#808080"/><rect x="0" y="371.6" width="963" height="1" fill="#909090"/><rect x="0" y="452.6" width="963" height="1" fill="#909090"/><rect x="0" y="453.6" width="963" height="1" fill="#505050"/><rect x="0" y="454.6" width="963" height="1" fill="#909090"/><rect x="0" y="545" width="963" height="1" fill="#404040"/><rect x="0" y="546" width="963" height="1" fill="#a0a0a0"/><rect x="0" y="547" width="963" height="1" fill="#404040"/><rect x="0" y="635.5" width="963" height="1.5" fill="#555"/><rect x="961.25" y="0" width="1.5" height="637" fill="#606060"/><text x="966.5" y="1.9" font-size="8.6" fill="#000" stroke="#000" font-weight="normal" text-anchor="start" textLength="30.3" lengthAdjust="spacingAndGlyphs">2728.050</text><text x="966.5" y="28.2" font-size="8.6" fill="#000" stroke="#000" font-weight="normal" text-anchor="start" textLength="30.3" lengthAdjust="spacingAndGlyphs">2714.520</text><text x="966.5" y="54.5" font-size="8.6" fill="#000" stroke="#000" font-weight="normal" text-anchor="start" textLength="30.3" lengthAdjust="spacingAndGlyphs">2700.580</text><text x="966.5" y="80.8" font-size="8.6" fill="#000" stroke="#000" font-weight="normal" text-anchor="start" textLength="30.3" lengthAdjust="spacingAndGlyphs">2687.050</text><text x="966.5" y="107.1" font-size="8.6" fill="#000" stroke="#000" font-weight="normal" text-anchor="start" textLength="30.3" lengthAdjust="spacingAndGlyphs">2673.520</text><text x="966.5" y="133.4" font-size="8.6" fill="#000" stroke="#000" font-weight="normal" text-anchor="start" textLength="30.3" lengthAdjust="spacingAndGlyphs">2659.580</text><text x="966.5" y="159.7" font-size="8.6" fill="#000" stroke="#000" font-weight="normal" text-anchor="start" textLength="30.3" lengthAdjust="spacingAndGlyphs">2646.050</text><text x="966.5" y="186.0" font-size="8.6" fill="#000" stroke="#000" font-weight="normal" text-anchor="start" textLength="30.3" lengthAdjust="spacingAndGlyphs">2632.520</text><text x="966.5" y="212.3" font-size="8.6" fill="#000" stroke="#000" font-weight="normal" text-anchor="start" textLength="30.3" lengthAdjust="spacingAndGlyphs">2618.580</text><text x="966.5" y="238.6" font-size="8.6" fill="#000" stroke="#000" font-weight="normal" text-anchor="start" textLength="30.3" lengthAdjust="spacingAndGlyphs">2605.050</text><text x="966.5" y="264.9" font-size="8.6" fill="#000" stroke="#000" font-weight="normal" text-anchor="start" textLength="30.3" lengthAdjust="spacingAndGlyphs">2591.520</text><text x="966.5" y="291.2" font-size="8.6" fill="#000" stroke="#000" font-weight="normal" text-anchor="start" textLength="30.3" lengthAdjust="spacingAndGlyphs">2577.990</text><rect x="963.5" y="184" width="36.5" height="9" fill="#000"/><text x="966.5" y="191.6" font-size="8.6" fill="#fff" stroke="#fff" font-weight="normal" text-anchor="start" textLength="30.3" lengthAdjust="spacingAndGlyphs">2629.685</text><text x="964.8" y="301.4" font-size="8.6" fill="#000" stroke="#000" font-weight="normal" text-anchor="start" textLength="11.5" lengthAdjust="spacingAndGlyphs">100</text><text x="964.8" y="319.4" font-size="8.6" fill="#000" stroke="#000" font-weight="normal" text-anchor="start" textLength="7.6" lengthAdjust="spacingAndGlyphs">70</text><text x="964.8" y="350.09999999999997" font-size="8.6" fill="#000" stroke="#000" font-weight="normal" text-anchor="start" textLength="7.6" lengthAdjust="spacingAndGlyphs">30</text><text x="964.8" y="368.2" font-size="8.6" fill="#000" stroke="#000" font-weight="normal" text-anchor="start" textLength="3.8" lengthAdjust="spacingAndGlyphs">0</text><text x="964.8" y="380.7" font-size="8.6" fill="#000" stroke="#000" font-weight="normal" text-anchor="start" textLength="22.7" lengthAdjust="spacingAndGlyphs">12.813</text><text x="964.8" y="406.8" font-size="8.6" fill="#000" stroke="#000" font-weight="normal" text-anchor="start" textLength="15" lengthAdjust="spacingAndGlyphs">0.00</text><text x="964.8" y="450.8" font-size="8.6" fill="#000" stroke="#000" font-weight="normal" text-anchor="start" textLength="28.5" lengthAdjust="spacingAndGlyphs">-20.0611</text><text x="964.8" y="464.0" font-size="8.6" fill="#000" stroke="#000" font-weight="normal" text-anchor="start" textLength="37.5" lengthAdjust="spacingAndGlyphs">68052.9782</text><text x="964.8" y="486.5" font-size="8.6" fill="#000" stroke="#000" font-weight="normal" text-anchor="start" textLength="15" lengthAdjust="spacingAndGlyphs">0.00</text><text x="964.8" y="543.5" font-size="8.6" fill="#000" stroke="#000" font-weight="normal" text-anchor="start" textLength="37.5" lengthAdjust="spacingAndGlyphs">-154570.39</text><text x="964.8" y="556.5" font-size="8.6" fill="#000" stroke="#000" font-weight="normal" text-anchor="start" textLength="19" lengthAdjust="spacingAndGlyphs">32918</text><text x="964.8" y="634.1" font-size="8.6" fill="#000" stroke="#000" font-weight="normal" text-anchor="start" textLength="3.8" lengthAdjust="spacingAndGlyphs">0</text><path d="M962.5 -2.6 L964.5 -1.3 L962.5 0.0Z" fill="#000"/><path d="M962.5 23.7 L964.5 25.0 L962.5 26.3Z" fill="#000"/><path d="M962.5 50.0 L964.5 51.3 L962.5 52.6Z" fill="#000"/><path d="M962.5 76.3 L964.5 77.6 L962.5 78.9Z" fill="#000"/><path d="M962.5 102.6 L964.5 103.9 L962.5 105.2Z" fill="#000"/><path d="M962.5 128.9 L964.5 130.2 L962.5 131.5Z" fill="#000"/><path d="M962.5 155.2 L964.5 156.5 L962.5 157.8Z" fill="#000"/><path d="M962.5 181.5 L964.5 182.8 L962.5 184.1Z" fill="#000"/><path d="M962.5 207.8 L964.5 209.1 L962.5 210.4Z" fill="#000"/><path d="M962.5 234.1 L964.5 235.4 L962.5 236.7Z" fill="#000"/><path d="M962.5 260.4 L964.5 261.7 L962.5 263.0Z" fill="#000"/><path d="M962.5 286.7 L964.5 288.0 L962.5 289.3Z" fill="#000"/><path d="M962.5 314.7 L964.5 316.0 L962.5 317.3Z" fill="#000"/><path d="M962.5 345.7 L964.5 347.0 L962.5 348.3Z" fill="#000"/><path d="M962.5 402.3 L964.5 403.6 L962.5 404.9Z" fill="#000"/><path d="M962.5 482.0 L964.5 483.3 L962.5 484.6Z" fill="#000"/><rect x="1002" y="0" width="2" height="653" fill="#fff"/><rect x="1002.2" y="0" width="1" height="653" fill="#e4e4e4"/><text x="3" y="7.3" font-size="8.6" fill="#000" stroke="#000" font-weight="normal" text-anchor="start" textLength="177" lengthAdjust="spacingAndGlyphs">XAUUSD,H1&#160;&#160;2633.045 2634.625 2629.565 2629.685</text><text x="3" y="302.0" font-size="8.6" fill="#000" stroke="#000" font-weight="normal" text-anchor="start" textLength="54" lengthAdjust="spacingAndGlyphs">RSI(14) 45.2117</text><text x="3" y="381.4" font-size="8.6" fill="#000" stroke="#000" font-weight="normal" text-anchor="start" textLength="111" lengthAdjust="spacingAndGlyphs">MACD(12,26,9) -8.9496 -12.7182</text><text x="3" y="464.6" font-size="8.6" fill="#000" stroke="#000" font-weight="normal" text-anchor="start" textLength="68" lengthAdjust="spacingAndGlyphs">Force(13) 9215.1554</text><text x="3" y="557.5" font-size="8.6" fill="#000" stroke="#000" font-weight="normal" text-anchor="start" textLength="47" lengthAdjust="spacingAndGlyphs">Volumes 6134</text><line x1="0.25" y1="636" x2="0.25" y2="640" stroke="#000" stroke-width="1"/><text x="-0.4" y="646.9" font-size="8.6" fill="#000" stroke="#000" font-weight="normal" text-anchor="start" textLength="42.5" lengthAdjust="spacingAndGlyphs">18 Nov 2024</text><line x1="51.29" y1="636" x2="51.29" y2="640" stroke="#000" stroke-width="1"/><text x="50.6" y="646.9" font-size="8.6" fill="#000" stroke="#000" font-weight="normal" text-anchor="start" textLength="45" lengthAdjust="spacingAndGlyphs">18 Nov 12:00</text><line x1="102.33" y1="636" x2="102.33" y2="640" stroke="#000" stroke-width="1"/><text x="101.6" y="646.9" font-size="8.6" fill="#000" stroke="#000" font-weight="normal" text-anchor="start" textLength="45" lengthAdjust="spacingAndGlyphs">18 Nov 20:00</text><line x1="153.37" y1="636" x2="153.37" y2="640" stroke="#000" stroke-width="1"/><text x="152.7" y="646.9" font-size="8.6" fill="#000" stroke="#000" font-weight="normal" text-anchor="start" textLength="45" lengthAdjust="spacingAndGlyphs">19 Nov 05:00</text><line x1="204.41" y1="636" x2="204.41" y2="640" stroke="#000" stroke-width="1"/><text x="203.7" y="646.9" font-size="8.6" fill="#000" stroke="#000" font-weight="normal" text-anchor="start" textLength="45" lengthAdjust="spacingAndGlyphs">19 Nov 13:00</text><line x1="255.45" y1="636" x2="255.45" y2="640" stroke="#000" stroke-width="1"/><text x="254.8" y="646.9" font-size="8.6" fill="#000" stroke="#000" font-weight="normal" text-anchor="start" textLength="45" lengthAdjust="spacingAndGlyphs">19 Nov 21:00</text><line x1="306.49" y1="636" x2="306.49" y2="640" stroke="#000" stroke-width="1"/><text x="305.8" y="646.9" font-size="8.6" fill="#000" stroke="#000" font-weight="normal" text-anchor="start" textLength="45" lengthAdjust="spacingAndGlyphs">20 Nov 06:00</text><line x1="357.53" y1="636" x2="357.53" y2="640" stroke="#000" stroke-width="1"/><text x="356.8" y="646.9" font-size="8.6" fill="#000" stroke="#000" font-weight="normal" text-anchor="start" textLength="45" lengthAdjust="spacingAndGlyphs">20 Nov 14:00</text><line x1="408.57" y1="636" x2="408.57" y2="640" stroke="#000" stroke-width="1"/><text x="407.9" y="646.9" font-size="8.6" fill="#000" stroke="#000" font-weight="normal" text-anchor="start" textLength="45" lengthAdjust="spacingAndGlyphs">20 Nov 22:00</text><line x1="459.61" y1="636" x2="459.61" y2="640" stroke="#000" stroke-width="1"/><text x="458.9" y="646.9" font-size="8.6" fill="#000" stroke="#000" font-weight="normal" text-anchor="start" textLength="45" lengthAdjust="spacingAndGlyphs">21 Nov 07:00</text><line x1="510.65" y1="636" x2="510.65" y2="640" stroke="#000" stroke-width="1"/><text x="509.9" y="646.9" font-size="8.6" fill="#000" stroke="#000" font-weight="normal" text-anchor="start" textLength="45" lengthAdjust="spacingAndGlyphs">21 Nov 15:00</text><line x1="561.69" y1="636" x2="561.69" y2="640" stroke="#000" stroke-width="1"/><text x="561.0" y="646.9" font-size="8.6" fill="#000" stroke="#000" font-weight="normal" text-anchor="start" textLength="45" lengthAdjust="spacingAndGlyphs">21 Nov 23:00</text><line x1="612.73" y1="636" x2="612.73" y2="640" stroke="#000" stroke-width="1"/><text x="612.0" y="646.9" font-size="8.6" fill="#000" stroke="#000" font-weight="normal" text-anchor="start" textLength="45" lengthAdjust="spacingAndGlyphs">22 Nov 08:00</text><line x1="663.77" y1="636" x2="663.77" y2="640" stroke="#000" stroke-width="1"/><text x="663.1" y="646.9" font-size="8.6" fill="#000" stroke="#000" font-weight="normal" text-anchor="start" textLength="45" lengthAdjust="spacingAndGlyphs">22 Nov 16:00</text><line x1="714.81" y1="636" x2="714.81" y2="640" stroke="#000" stroke-width="1"/><text x="714.1" y="646.9" font-size="8.6" fill="#000" stroke="#000" font-weight="normal" text-anchor="start" textLength="45" lengthAdjust="spacingAndGlyphs">25 Nov 01:00</text><line x1="765.85" y1="636" x2="765.85" y2="640" stroke="#000" stroke-width="1"/><text x="765.1" y="646.9" font-size="8.6" fill="#000" stroke="#000" font-weight="normal" text-anchor="start" textLength="45" lengthAdjust="spacingAndGlyphs">25 Nov 09:00</text><line x1="816.89" y1="636" x2="816.89" y2="640" stroke="#000" stroke-width="1"/><text x="816.2" y="646.9" font-size="8.6" fill="#000" stroke="#000" font-weight="normal" text-anchor="start" textLength="45" lengthAdjust="spacingAndGlyphs">25 Nov 17:00</text><line x1="867.93" y1="636" x2="867.93" y2="640" stroke="#000" stroke-width="1"/><text x="867.2" y="646.9" font-size="8.6" fill="#000" stroke="#000" font-weight="normal" text-anchor="start" textLength="45" lengthAdjust="spacingAndGlyphs">26 Nov 02:00</text><line x1="918.97" y1="636" x2="918.97" y2="640" stroke="#000" stroke-width="1"/><text x="918.3" y="646.9" font-size="8.6" fill="#000" stroke="#000" font-weight="normal" text-anchor="start" textLength="45" lengthAdjust="spacingAndGlyphs">26 Nov 10:00</text><rect x="641" y="170" width="143" height="28" fill="#fff"/><rect x="645.5" y="174" width="134" height="19.5" fill="#ffff40" stroke="#000" stroke-width="1"/><text x="649" y="188.4" font-size="14" fill="#000" font-weight="bold" text-anchor="start" textLength="126" lengthAdjust="spacingAndGlyphs">monicakingsley.co</text><text x="579.6" y="221.8" font-size="14.2" fill="#000" font-weight="bold" text-anchor="start" textLength="180.5" lengthAdjust="spacingAndGlyphs">Modest stabilization, decent</text><text x="579.6" y="239.8" font-size="14.2" fill="#000" font-weight="bold" text-anchor="start" textLength="213.5" lengthAdjust="spacingAndGlyphs">improvement of the hourly MACD</text><text x="579.6" y="257.8" font-size="14.2" fill="#000" font-weight="bold" text-anchor="start" textLength="218.5" lengthAdjust="spacingAndGlyphs">histogram characteristics, showing</text><text x="579.6" y="275.8" font-size="14.2" fill="#000" font-weight="bold" text-anchor="start" textLength="216" lengthAdjust="spacingAndGlyphs">for now exhaustion of gold sellers.</text></svg></body></html>
